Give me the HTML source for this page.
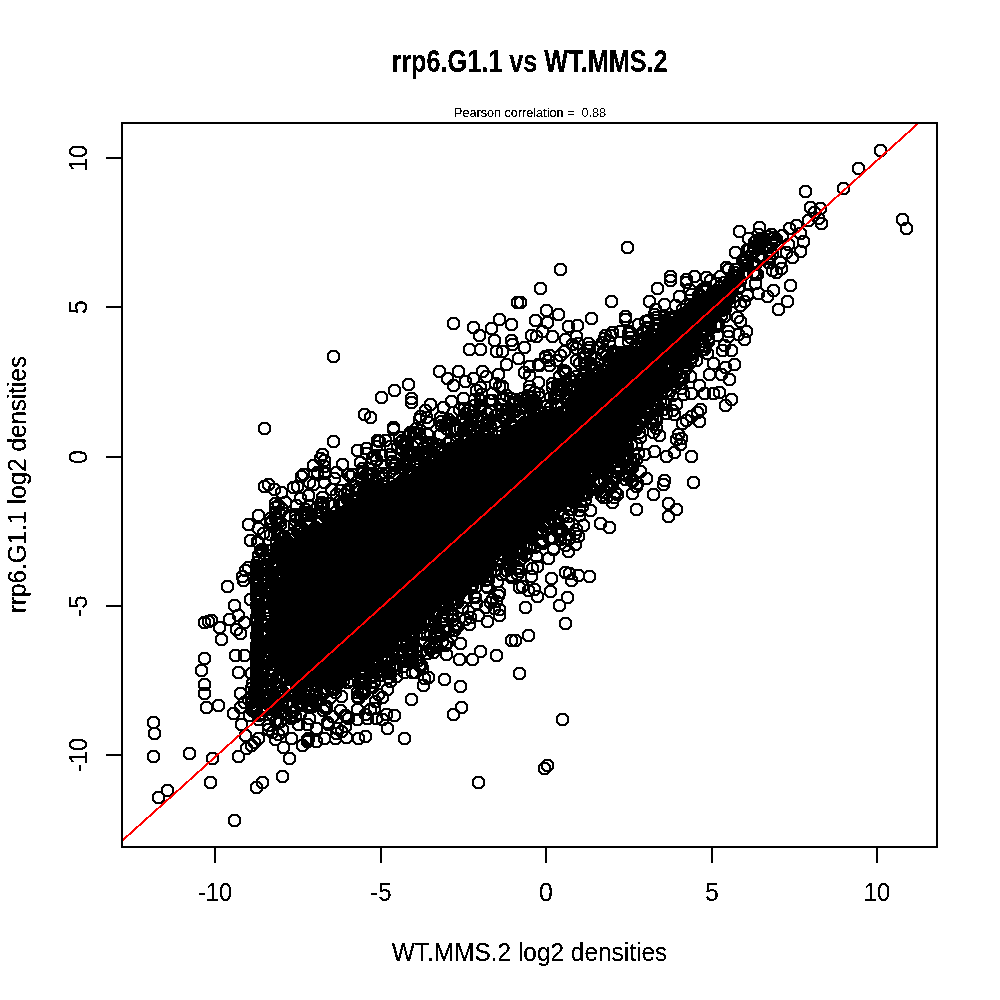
<!DOCTYPE html>
<html lang="en"><head><meta charset="utf-8"><title>rrp6.G1.1 vs WT.MMS.2</title>
<style>html,body{margin:0;padding:0;background:#fff}svg{display:block}text{font-family:"Liberation Sans",sans-serif;fill:#000}.pts circle{r:5.8px;fill:none;stroke:#000;stroke-width:2}</style></head><body>
<svg width="1000" height="1000" viewBox="0 0 1000 1000">
<defs><filter id="bw" x="0" y="0" width="1000" height="1000" filterUnits="userSpaceOnUse" color-interpolation-filters="sRGB"><feComponentTransfer><feFuncA type="discrete" tableValues="0 0 1 1 1"/></feComponentTransfer></filter></defs>
<rect width="1000" height="1000" fill="#fff"/>
<polygon points="285.9,573.5 286,649.9 289.8,676.9 297.1,680.3 310,681 325.7,679.5 341.5,673.9 359.1,663.2 408,628.6 427.6,609 459.5,581.9 529.6,526.8 549.3,509.1 579.1,491.4 581.1,475.7 597.2,454.7 622.5,438.3 628.9,416.6 649.6,396.6 661,382.7 663.5,364 678.6,347.8 688.5,328 709.3,304.9 723.4,297.5 727.7,289.7 724.5,292.6 694.3,310.8 664.8,330.4 644.3,346.7 623.3,357.3 608,371.9 589.1,387.1 570.7,409.7 539,420.4 522.4,426.8 502.2,440.9 469,450.1 449.1,460 428.7,468.2 399.8,481.7 370.9,497.1 352,508.4 298.7,545.5 285.9,573.5" fill="#000" stroke="#000" stroke-width="2" shape-rendering="crispEdges"/>
<g class="pts" shape-rendering="crispEdges">
<circle cx="518.5" cy="417.5"/>
<circle cx="595.5" cy="472.5"/>
<circle cx="612.5" cy="450.5"/>
<circle cx="446.5" cy="590.5"/>
<circle cx="643.5" cy="331.5"/>
<circle cx="427.5" cy="473.5"/>
<circle cx="624.5" cy="447.5"/>
<circle cx="656.5" cy="391.5"/>
<circle cx="716.5" cy="307.5"/>
<circle cx="286.5" cy="559.5"/>
<circle cx="381.5" cy="494.5"/>
<circle cx="532.5" cy="427.5"/>
<circle cx="290.5" cy="583.5"/>
<circle cx="581.5" cy="495.5"/>
<circle cx="277.5" cy="607.5"/>
<circle cx="379.5" cy="675.5"/>
<circle cx="674.5" cy="414.5"/>
<circle cx="613.5" cy="351.5"/>
<circle cx="419.5" cy="476.5"/>
<circle cx="394.5" cy="468.5"/>
<circle cx="545.5" cy="422.5"/>
<circle cx="445.5" cy="424.5"/>
<circle cx="268.5" cy="607.5"/>
<circle cx="368.5" cy="480.5"/>
<circle cx="647.5" cy="341.5"/>
<circle cx="519.5" cy="435.5"/>
<circle cx="647.5" cy="391.5"/>
<circle cx="705.5" cy="302.5"/>
<circle cx="317.5" cy="701.5"/>
<circle cx="700.5" cy="295.5"/>
<circle cx="669.5" cy="317.5"/>
<circle cx="259.5" cy="693.5"/>
<circle cx="271.5" cy="668.5"/>
<circle cx="516.5" cy="437.5"/>
<circle cx="470.5" cy="579.5"/>
<circle cx="691.5" cy="357.5"/>
<circle cx="587.5" cy="483.5"/>
<circle cx="485.5" cy="451.5"/>
<circle cx="557.5" cy="419.5"/>
<circle cx="698.5" cy="295.5"/>
<circle cx="688.5" cy="310.5"/>
<circle cx="709.5" cy="303.5"/>
<circle cx="561.5" cy="417.5"/>
<circle cx="740.5" cy="305.5"/>
<circle cx="652.5" cy="388.5"/>
<circle cx="274.5" cy="656.5"/>
<circle cx="691.5" cy="336.5"/>
<circle cx="287.5" cy="639.5"/>
<circle cx="611.5" cy="454.5"/>
<circle cx="457.5" cy="626.5"/>
<circle cx="318.5" cy="534.5"/>
<circle cx="360.5" cy="680.5"/>
<circle cx="596.5" cy="383.5"/>
<circle cx="368.5" cy="468.5"/>
<circle cx="406.5" cy="628.5"/>
<circle cx="668.5" cy="323.5"/>
<circle cx="724.5" cy="302.5"/>
<circle cx="441.5" cy="635.5"/>
<circle cx="409.5" cy="434.5"/>
<circle cx="403.5" cy="630.5"/>
<circle cx="482.5" cy="560.5"/>
<circle cx="602.5" cy="354.5"/>
<circle cx="547.5" cy="504.5"/>
<circle cx="440.5" cy="465.5"/>
<circle cx="519.5" cy="529.5"/>
<circle cx="347.5" cy="499.5"/>
<circle cx="288.5" cy="627.5"/>
<circle cx="533.5" cy="524.5"/>
<circle cx="291.5" cy="610.5"/>
<circle cx="683.5" cy="320.5"/>
<circle cx="417.5" cy="616.5"/>
<circle cx="455.5" cy="598.5"/>
<circle cx="594.5" cy="388.5"/>
<circle cx="300.5" cy="544.5"/>
<circle cx="657.5" cy="389.5"/>
<circle cx="617.5" cy="451.5"/>
<circle cx="338.5" cy="674.5"/>
<circle cx="620.5" cy="468.5"/>
<circle cx="559.5" cy="389.5"/>
<circle cx="732.5" cy="282.5"/>
<circle cx="547.5" cy="417.5"/>
<circle cx="424.5" cy="456.5"/>
<circle cx="273.5" cy="561.5"/>
<circle cx="508.5" cy="562.5"/>
<circle cx="289.5" cy="641.5"/>
<circle cx="291.5" cy="624.5"/>
<circle cx="654.5" cy="398.5"/>
<circle cx="557.5" cy="404.5"/>
<circle cx="344.5" cy="665.5"/>
<circle cx="675.5" cy="373.5"/>
<circle cx="522.5" cy="534.5"/>
<circle cx="311.5" cy="542.5"/>
<circle cx="553.5" cy="421.5"/>
<circle cx="568.5" cy="400.5"/>
<circle cx="392.5" cy="651.5"/>
<circle cx="333.5" cy="505.5"/>
<circle cx="534.5" cy="414.5"/>
<circle cx="280.5" cy="583.5"/>
<circle cx="317.5" cy="507.5"/>
<circle cx="406.5" cy="659.5"/>
<circle cx="487.5" cy="561.5"/>
<circle cx="335.5" cy="674.5"/>
<circle cx="498.5" cy="425.5"/>
<circle cx="656.5" cy="341.5"/>
<circle cx="299.5" cy="543.5"/>
<circle cx="645.5" cy="344.5"/>
<circle cx="283.5" cy="611.5"/>
<circle cx="359.5" cy="663.5"/>
<circle cx="385.5" cy="648.5"/>
<circle cx="644.5" cy="337.5"/>
<circle cx="395.5" cy="631.5"/>
<circle cx="285.5" cy="640.5"/>
<circle cx="535.5" cy="421.5"/>
<circle cx="627.5" cy="354.5"/>
<circle cx="574.5" cy="387.5"/>
<circle cx="593.5" cy="459.5"/>
<circle cx="327.5" cy="689.5"/>
<circle cx="262.5" cy="659.5"/>
<circle cx="680.5" cy="320.5"/>
<circle cx="638.5" cy="324.5"/>
<circle cx="651.5" cy="389.5"/>
<circle cx="490.5" cy="411.5"/>
<circle cx="434.5" cy="446.5"/>
<circle cx="381.5" cy="640.5"/>
<circle cx="275.5" cy="593.5"/>
<circle cx="468.5" cy="456.5"/>
<circle cx="673.5" cy="323.5"/>
<circle cx="480.5" cy="400.5"/>
<circle cx="440.5" cy="602.5"/>
<circle cx="560.5" cy="355.5"/>
<circle cx="456.5" cy="578.5"/>
<circle cx="336.5" cy="494.5"/>
<circle cx="520.5" cy="529.5"/>
<circle cx="402.5" cy="635.5"/>
<circle cx="531.5" cy="527.5"/>
<circle cx="557.5" cy="384.5"/>
<circle cx="517.5" cy="547.5"/>
<circle cx="699.5" cy="305.5"/>
<circle cx="563.5" cy="386.5"/>
<circle cx="375.5" cy="651.5"/>
<circle cx="542.5" cy="543.5"/>
<circle cx="622.5" cy="439.5"/>
<circle cx="336.5" cy="522.5"/>
<circle cx="459.5" cy="583.5"/>
<circle cx="535.5" cy="426.5"/>
<circle cx="268.5" cy="621.5"/>
<circle cx="288.5" cy="643.5"/>
<circle cx="361.5" cy="681.5"/>
<circle cx="580.5" cy="393.5"/>
<circle cx="266.5" cy="635.5"/>
<circle cx="274.5" cy="660.5"/>
<circle cx="570.5" cy="414.5"/>
<circle cx="536.5" cy="404.5"/>
<circle cx="649.5" cy="398.5"/>
<circle cx="317.5" cy="472.5"/>
<circle cx="282.5" cy="626.5"/>
<circle cx="360.5" cy="507.5"/>
<circle cx="709.5" cy="309.5"/>
<circle cx="674.5" cy="361.5"/>
<circle cx="408.5" cy="622.5"/>
<circle cx="297.5" cy="686.5"/>
<circle cx="301.5" cy="516.5"/>
<circle cx="481.5" cy="394.5"/>
<circle cx="316.5" cy="686.5"/>
<circle cx="699.5" cy="294.5"/>
<circle cx="516.5" cy="438.5"/>
<circle cx="254.5" cy="693.5"/>
<circle cx="338.5" cy="518.5"/>
<circle cx="686.5" cy="314.5"/>
<circle cx="652.5" cy="386.5"/>
<circle cx="325.5" cy="678.5"/>
<circle cx="288.5" cy="548.5"/>
<circle cx="286.5" cy="619.5"/>
<circle cx="365.5" cy="486.5"/>
<circle cx="485.5" cy="607.5"/>
<circle cx="679.5" cy="347.5"/>
<circle cx="463.5" cy="441.5"/>
<circle cx="690.5" cy="319.5"/>
<circle cx="392.5" cy="634.5"/>
<circle cx="292.5" cy="657.5"/>
<circle cx="655.5" cy="384.5"/>
<circle cx="279.5" cy="621.5"/>
<circle cx="540.5" cy="533.5"/>
<circle cx="289.5" cy="602.5"/>
<circle cx="644.5" cy="399.5"/>
<circle cx="275.5" cy="646.5"/>
<circle cx="508.5" cy="409.5"/>
<circle cx="617.5" cy="437.5"/>
<circle cx="683.5" cy="394.5"/>
<circle cx="403.5" cy="666.5"/>
<circle cx="703.5" cy="308.5"/>
<circle cx="296.5" cy="546.5"/>
<circle cx="458.5" cy="595.5"/>
<circle cx="288.5" cy="594.5"/>
<circle cx="266.5" cy="633.5"/>
<circle cx="272.5" cy="563.5"/>
<circle cx="321.5" cy="679.5"/>
<circle cx="286.5" cy="643.5"/>
<circle cx="480.5" cy="573.5"/>
<circle cx="298.5" cy="550.5"/>
<circle cx="354.5" cy="661.5"/>
<circle cx="422.5" cy="452.5"/>
<circle cx="529.5" cy="375.5"/>
<circle cx="602.5" cy="369.5"/>
<circle cx="586.5" cy="466.5"/>
<circle cx="539.5" cy="519.5"/>
<circle cx="468.5" cy="572.5"/>
<circle cx="427.5" cy="653.5"/>
<circle cx="642.5" cy="339.5"/>
<circle cx="454.5" cy="448.5"/>
<circle cx="621.5" cy="357.5"/>
<circle cx="724.5" cy="292.5"/>
<circle cx="523.5" cy="535.5"/>
<circle cx="379.5" cy="492.5"/>
<circle cx="552.5" cy="420.5"/>
<circle cx="299.5" cy="544.5"/>
<circle cx="543.5" cy="418.5"/>
<circle cx="275.5" cy="555.5"/>
<circle cx="591.5" cy="488.5"/>
<circle cx="463.5" cy="582.5"/>
<circle cx="585.5" cy="499.5"/>
<circle cx="386.5" cy="640.5"/>
<circle cx="330.5" cy="527.5"/>
<circle cx="284.5" cy="605.5"/>
<circle cx="529.5" cy="422.5"/>
<circle cx="684.5" cy="352.5"/>
<circle cx="284.5" cy="638.5"/>
<circle cx="281.5" cy="615.5"/>
<circle cx="646.5" cy="327.5"/>
<circle cx="724.5" cy="289.5"/>
<circle cx="329.5" cy="527.5"/>
<circle cx="745.5" cy="265.5"/>
<circle cx="646.5" cy="343.5"/>
<circle cx="579.5" cy="363.5"/>
<circle cx="386.5" cy="492.5"/>
<circle cx="376.5" cy="494.5"/>
<circle cx="645.5" cy="392.5"/>
<circle cx="563.5" cy="413.5"/>
<circle cx="618.5" cy="367.5"/>
<circle cx="705.5" cy="297.5"/>
<circle cx="437.5" cy="636.5"/>
<circle cx="540.5" cy="425.5"/>
<circle cx="579.5" cy="482.5"/>
<circle cx="287.5" cy="665.5"/>
<circle cx="387.5" cy="689.5"/>
<circle cx="616.5" cy="369.5"/>
<circle cx="327.5" cy="683.5"/>
<circle cx="284.5" cy="664.5"/>
<circle cx="666.5" cy="334.5"/>
<circle cx="560.5" cy="539.5"/>
<circle cx="577.5" cy="481.5"/>
<circle cx="527.5" cy="395.5"/>
<circle cx="383.5" cy="475.5"/>
<circle cx="349.5" cy="509.5"/>
<circle cx="725.5" cy="293.5"/>
<circle cx="453.5" cy="457.5"/>
<circle cx="420.5" cy="621.5"/>
<circle cx="385.5" cy="440.5"/>
<circle cx="485.5" cy="446.5"/>
<circle cx="627.5" cy="420.5"/>
<circle cx="398.5" cy="629.5"/>
<circle cx="269.5" cy="627.5"/>
<circle cx="326.5" cy="513.5"/>
<circle cx="583.5" cy="482.5"/>
<circle cx="486.5" cy="586.5"/>
<circle cx="430.5" cy="649.5"/>
<circle cx="437.5" cy="449.5"/>
<circle cx="450.5" cy="452.5"/>
<circle cx="702.5" cy="289.5"/>
<circle cx="609.5" cy="341.5"/>
<circle cx="278.5" cy="662.5"/>
<circle cx="301.5" cy="682.5"/>
<circle cx="631.5" cy="445.5"/>
<circle cx="642.5" cy="398.5"/>
<circle cx="376.5" cy="653.5"/>
<circle cx="731.5" cy="292.5"/>
<circle cx="626.5" cy="417.5"/>
<circle cx="272.5" cy="596.5"/>
<circle cx="615.5" cy="352.5"/>
<circle cx="560.5" cy="505.5"/>
<circle cx="499.5" cy="592.5"/>
<circle cx="272.5" cy="603.5"/>
<circle cx="596.5" cy="367.5"/>
<circle cx="639.5" cy="406.5"/>
<circle cx="272.5" cy="680.5"/>
<circle cx="311.5" cy="685.5"/>
<circle cx="650.5" cy="334.5"/>
<circle cx="373.5" cy="488.5"/>
<circle cx="497.5" cy="441.5"/>
<circle cx="291.5" cy="620.5"/>
<circle cx="555.5" cy="394.5"/>
<circle cx="651.5" cy="390.5"/>
<circle cx="302.5" cy="697.5"/>
<circle cx="394.5" cy="486.5"/>
<circle cx="550.5" cy="397.5"/>
<circle cx="706.5" cy="330.5"/>
<circle cx="670.5" cy="364.5"/>
<circle cx="516.5" cy="537.5"/>
<circle cx="276.5" cy="591.5"/>
<circle cx="390.5" cy="488.5"/>
<circle cx="284.5" cy="542.5"/>
<circle cx="512.5" cy="434.5"/>
<circle cx="510.5" cy="551.5"/>
<circle cx="364.5" cy="688.5"/>
<circle cx="265.5" cy="566.5"/>
<circle cx="392.5" cy="633.5"/>
<circle cx="425.5" cy="471.5"/>
<circle cx="501.5" cy="415.5"/>
<circle cx="417.5" cy="452.5"/>
<circle cx="552.5" cy="419.5"/>
<circle cx="285.5" cy="613.5"/>
<circle cx="377.5" cy="486.5"/>
<circle cx="660.5" cy="383.5"/>
<circle cx="370.5" cy="672.5"/>
<circle cx="456.5" cy="458.5"/>
<circle cx="415.5" cy="624.5"/>
<circle cx="678.5" cy="337.5"/>
<circle cx="289.5" cy="660.5"/>
<circle cx="401.5" cy="632.5"/>
<circle cx="331.5" cy="673.5"/>
<circle cx="465.5" cy="413.5"/>
<circle cx="613.5" cy="448.5"/>
<circle cx="409.5" cy="633.5"/>
<circle cx="666.5" cy="336.5"/>
<circle cx="474.5" cy="448.5"/>
<circle cx="582.5" cy="482.5"/>
<circle cx="686.5" cy="357.5"/>
<circle cx="711.5" cy="306.5"/>
<circle cx="586.5" cy="487.5"/>
<circle cx="672.5" cy="319.5"/>
<circle cx="605.5" cy="335.5"/>
<circle cx="432.5" cy="471.5"/>
<circle cx="278.5" cy="599.5"/>
<circle cx="397.5" cy="447.5"/>
<circle cx="705.5" cy="336.5"/>
<circle cx="428.5" cy="620.5"/>
<circle cx="639.5" cy="432.5"/>
<circle cx="680.5" cy="335.5"/>
<circle cx="385.5" cy="660.5"/>
<circle cx="380.5" cy="651.5"/>
<circle cx="658.5" cy="406.5"/>
<circle cx="418.5" cy="617.5"/>
<circle cx="274.5" cy="682.5"/>
<circle cx="715.5" cy="325.5"/>
<circle cx="320.5" cy="511.5"/>
<circle cx="297.5" cy="676.5"/>
<circle cx="321.5" cy="534.5"/>
<circle cx="424.5" cy="634.5"/>
<circle cx="533.5" cy="519.5"/>
<circle cx="262.5" cy="667.5"/>
<circle cx="554.5" cy="395.5"/>
<circle cx="655.5" cy="392.5"/>
<circle cx="454.5" cy="582.5"/>
<circle cx="622.5" cy="356.5"/>
<circle cx="478.5" cy="427.5"/>
<circle cx="447.5" cy="463.5"/>
<circle cx="277.5" cy="699.5"/>
<circle cx="599.5" cy="456.5"/>
<circle cx="324.5" cy="707.5"/>
<circle cx="428.5" cy="469.5"/>
<circle cx="375.5" cy="487.5"/>
<circle cx="490.5" cy="564.5"/>
<circle cx="526.5" cy="407.5"/>
<circle cx="654.5" cy="404.5"/>
<circle cx="474.5" cy="449.5"/>
<circle cx="600.5" cy="445.5"/>
<circle cx="447.5" cy="600.5"/>
<circle cx="559.5" cy="386.5"/>
<circle cx="284.5" cy="669.5"/>
<circle cx="495.5" cy="415.5"/>
<circle cx="622.5" cy="357.5"/>
<circle cx="591.5" cy="473.5"/>
<circle cx="281.5" cy="669.5"/>
<circle cx="393.5" cy="648.5"/>
<circle cx="347.5" cy="682.5"/>
<circle cx="302.5" cy="703.5"/>
<circle cx="467.5" cy="582.5"/>
<circle cx="728.5" cy="269.5"/>
<circle cx="566.5" cy="413.5"/>
<circle cx="471.5" cy="566.5"/>
<circle cx="478.5" cy="559.5"/>
<circle cx="257.5" cy="695.5"/>
<circle cx="721.5" cy="299.5"/>
<circle cx="540.5" cy="421.5"/>
<circle cx="278.5" cy="632.5"/>
<circle cx="280.5" cy="543.5"/>
<circle cx="291.5" cy="549.5"/>
<circle cx="738.5" cy="275.5"/>
<circle cx="304.5" cy="515.5"/>
<circle cx="608.5" cy="449.5"/>
<circle cx="619.5" cy="445.5"/>
<circle cx="678.5" cy="347.5"/>
<circle cx="413.5" cy="475.5"/>
<circle cx="515.5" cy="549.5"/>
<circle cx="677.5" cy="321.5"/>
<circle cx="451.5" cy="449.5"/>
<circle cx="643.5" cy="403.5"/>
<circle cx="283.5" cy="536.5"/>
<circle cx="376.5" cy="718.5"/>
<circle cx="352.5" cy="515.5"/>
<circle cx="393.5" cy="665.5"/>
<circle cx="442.5" cy="594.5"/>
<circle cx="286.5" cy="621.5"/>
<circle cx="371.5" cy="485.5"/>
<circle cx="288.5" cy="614.5"/>
<circle cx="633.5" cy="407.5"/>
<circle cx="609.5" cy="377.5"/>
<circle cx="281.5" cy="558.5"/>
<circle cx="388.5" cy="489.5"/>
<circle cx="287.5" cy="563.5"/>
<circle cx="604.5" cy="443.5"/>
<circle cx="601.5" cy="450.5"/>
<circle cx="341.5" cy="673.5"/>
<circle cx="561.5" cy="529.5"/>
<circle cx="288.5" cy="649.5"/>
<circle cx="288.5" cy="667.5"/>
<circle cx="508.5" cy="564.5"/>
<circle cx="288.5" cy="634.5"/>
<circle cx="528.5" cy="425.5"/>
<circle cx="532.5" cy="522.5"/>
<circle cx="497.5" cy="446.5"/>
<circle cx="607.5" cy="370.5"/>
<circle cx="375.5" cy="664.5"/>
<circle cx="563.5" cy="499.5"/>
<circle cx="375.5" cy="663.5"/>
<circle cx="607.5" cy="452.5"/>
<circle cx="410.5" cy="653.5"/>
<circle cx="705.5" cy="287.5"/>
<circle cx="284.5" cy="567.5"/>
<circle cx="270.5" cy="571.5"/>
<circle cx="736.5" cy="276.5"/>
<circle cx="528.5" cy="424.5"/>
<circle cx="300.5" cy="536.5"/>
<circle cx="590.5" cy="363.5"/>
<circle cx="541.5" cy="540.5"/>
<circle cx="565.5" cy="371.5"/>
<circle cx="515.5" cy="438.5"/>
<circle cx="592.5" cy="390.5"/>
<circle cx="317.5" cy="533.5"/>
<circle cx="530.5" cy="521.5"/>
<circle cx="404.5" cy="633.5"/>
<circle cx="412.5" cy="639.5"/>
<circle cx="495.5" cy="383.5"/>
<circle cx="705.5" cy="328.5"/>
<circle cx="517.5" cy="530.5"/>
<circle cx="538.5" cy="524.5"/>
<circle cx="591.5" cy="381.5"/>
<circle cx="679.5" cy="350.5"/>
<circle cx="276.5" cy="529.5"/>
<circle cx="492.5" cy="553.5"/>
<circle cx="372.5" cy="687.5"/>
<circle cx="277.5" cy="519.5"/>
<circle cx="455.5" cy="462.5"/>
<circle cx="413.5" cy="628.5"/>
<circle cx="589.5" cy="384.5"/>
<circle cx="315.5" cy="540.5"/>
<circle cx="699.5" cy="303.5"/>
<circle cx="424.5" cy="446.5"/>
<circle cx="340.5" cy="490.5"/>
<circle cx="596.5" cy="459.5"/>
<circle cx="627.5" cy="361.5"/>
<circle cx="573.5" cy="499.5"/>
<circle cx="290.5" cy="608.5"/>
<circle cx="638.5" cy="425.5"/>
<circle cx="573.5" cy="410.5"/>
<circle cx="590.5" cy="392.5"/>
<circle cx="298.5" cy="695.5"/>
<circle cx="519.5" cy="571.5"/>
<circle cx="290.5" cy="572.5"/>
<circle cx="287.5" cy="596.5"/>
<circle cx="685.5" cy="322.5"/>
<circle cx="339.5" cy="501.5"/>
<circle cx="310.5" cy="539.5"/>
<circle cx="664.5" cy="325.5"/>
<circle cx="300.5" cy="538.5"/>
<circle cx="680.5" cy="351.5"/>
<circle cx="311.5" cy="680.5"/>
<circle cx="503.5" cy="418.5"/>
<circle cx="394.5" cy="487.5"/>
<circle cx="519.5" cy="401.5"/>
<circle cx="483.5" cy="451.5"/>
<circle cx="453.5" cy="589.5"/>
<circle cx="611.5" cy="444.5"/>
<circle cx="383.5" cy="666.5"/>
<circle cx="290.5" cy="636.5"/>
<circle cx="373.5" cy="669.5"/>
<circle cx="405.5" cy="461.5"/>
<circle cx="412.5" cy="642.5"/>
<circle cx="690.5" cy="354.5"/>
<circle cx="569.5" cy="534.5"/>
<circle cx="454.5" cy="454.5"/>
<circle cx="676.5" cy="329.5"/>
<circle cx="511.5" cy="575.5"/>
<circle cx="273.5" cy="647.5"/>
<circle cx="282.5" cy="647.5"/>
<circle cx="416.5" cy="433.5"/>
<circle cx="505.5" cy="445.5"/>
<circle cx="595.5" cy="460.5"/>
<circle cx="576.5" cy="409.5"/>
<circle cx="277.5" cy="620.5"/>
<circle cx="379.5" cy="664.5"/>
<circle cx="518.5" cy="416.5"/>
<circle cx="627.5" cy="431.5"/>
<circle cx="643.5" cy="396.5"/>
<circle cx="645.5" cy="348.5"/>
<circle cx="288.5" cy="635.5"/>
<circle cx="626.5" cy="351.5"/>
<circle cx="510.5" cy="537.5"/>
<circle cx="636.5" cy="408.5"/>
<circle cx="309.5" cy="506.5"/>
<circle cx="653.5" cy="390.5"/>
<circle cx="470.5" cy="429.5"/>
<circle cx="419.5" cy="419.5"/>
<circle cx="429.5" cy="455.5"/>
<circle cx="337.5" cy="669.5"/>
<circle cx="696.5" cy="327.5"/>
<circle cx="340.5" cy="674.5"/>
<circle cx="282.5" cy="621.5"/>
<circle cx="310.5" cy="540.5"/>
<circle cx="276.5" cy="630.5"/>
<circle cx="396.5" cy="630.5"/>
<circle cx="407.5" cy="649.5"/>
<circle cx="487.5" cy="569.5"/>
<circle cx="282.5" cy="623.5"/>
<circle cx="625.5" cy="454.5"/>
<circle cx="692.5" cy="331.5"/>
<circle cx="488.5" cy="557.5"/>
<circle cx="329.5" cy="520.5"/>
<circle cx="505.5" cy="416.5"/>
<circle cx="331.5" cy="521.5"/>
<circle cx="341.5" cy="696.5"/>
<circle cx="618.5" cy="352.5"/>
<circle cx="675.5" cy="370.5"/>
<circle cx="474.5" cy="405.5"/>
<circle cx="313.5" cy="676.5"/>
<circle cx="272.5" cy="679.5"/>
<circle cx="681.5" cy="316.5"/>
<circle cx="598.5" cy="451.5"/>
<circle cx="415.5" cy="617.5"/>
<circle cx="607.5" cy="442.5"/>
<circle cx="445.5" cy="465.5"/>
<circle cx="337.5" cy="522.5"/>
<circle cx="502.5" cy="386.5"/>
<circle cx="471.5" cy="573.5"/>
<circle cx="483.5" cy="425.5"/>
<circle cx="531.5" cy="426.5"/>
<circle cx="577.5" cy="487.5"/>
<circle cx="323.5" cy="710.5"/>
<circle cx="285.5" cy="620.5"/>
<circle cx="357.5" cy="500.5"/>
<circle cx="378.5" cy="694.5"/>
<circle cx="282.5" cy="586.5"/>
<circle cx="642.5" cy="395.5"/>
<circle cx="689.5" cy="327.5"/>
<circle cx="290.5" cy="569.5"/>
<circle cx="272.5" cy="601.5"/>
<circle cx="594.5" cy="370.5"/>
<circle cx="414.5" cy="617.5"/>
<circle cx="695.5" cy="310.5"/>
<circle cx="704.5" cy="299.5"/>
<circle cx="289.5" cy="557.5"/>
<circle cx="364.5" cy="503.5"/>
<circle cx="415.5" cy="480.5"/>
<circle cx="614.5" cy="446.5"/>
<circle cx="291.5" cy="606.5"/>
<circle cx="295.5" cy="565.5"/>
<circle cx="433.5" cy="469.5"/>
<circle cx="621.5" cy="422.5"/>
<circle cx="326.5" cy="674.5"/>
<circle cx="412.5" cy="643.5"/>
<circle cx="427.5" cy="442.5"/>
<circle cx="598.5" cy="347.5"/>
<circle cx="307.5" cy="542.5"/>
<circle cx="603.5" cy="450.5"/>
<circle cx="282.5" cy="609.5"/>
<circle cx="662.5" cy="379.5"/>
<circle cx="478.5" cy="421.5"/>
<circle cx="703.5" cy="345.5"/>
<circle cx="318.5" cy="681.5"/>
<circle cx="571.5" cy="390.5"/>
<circle cx="700.5" cy="301.5"/>
<circle cx="435.5" cy="603.5"/>
<circle cx="363.5" cy="492.5"/>
<circle cx="582.5" cy="506.5"/>
<circle cx="466.5" cy="452.5"/>
<circle cx="444.5" cy="607.5"/>
<circle cx="450.5" cy="441.5"/>
<circle cx="568.5" cy="523.5"/>
<circle cx="455.5" cy="626.5"/>
<circle cx="288.5" cy="690.5"/>
<circle cx="673.5" cy="358.5"/>
<circle cx="702.5" cy="349.5"/>
<circle cx="490.5" cy="550.5"/>
<circle cx="298.5" cy="724.5"/>
<circle cx="514.5" cy="532.5"/>
<circle cx="351.5" cy="669.5"/>
<circle cx="573.5" cy="387.5"/>
<circle cx="681.5" cy="340.5"/>
<circle cx="275.5" cy="512.5"/>
<circle cx="492.5" cy="558.5"/>
<circle cx="485.5" cy="580.5"/>
<circle cx="413.5" cy="639.5"/>
<circle cx="379.5" cy="652.5"/>
<circle cx="591.5" cy="369.5"/>
<circle cx="483.5" cy="566.5"/>
<circle cx="349.5" cy="513.5"/>
<circle cx="518.5" cy="548.5"/>
<circle cx="286.5" cy="571.5"/>
<circle cx="636.5" cy="407.5"/>
<circle cx="305.5" cy="540.5"/>
<circle cx="732.5" cy="288.5"/>
<circle cx="356.5" cy="662.5"/>
<circle cx="340.5" cy="678.5"/>
<circle cx="475.5" cy="597.5"/>
<circle cx="412.5" cy="456.5"/>
<circle cx="731.5" cy="282.5"/>
<circle cx="453.5" cy="412.5"/>
<circle cx="277.5" cy="534.5"/>
<circle cx="352.5" cy="505.5"/>
<circle cx="475.5" cy="574.5"/>
<circle cx="455.5" cy="460.5"/>
<circle cx="347.5" cy="667.5"/>
<circle cx="503.5" cy="444.5"/>
<circle cx="590.5" cy="387.5"/>
<circle cx="555.5" cy="521.5"/>
<circle cx="306.5" cy="680.5"/>
<circle cx="679.5" cy="341.5"/>
<circle cx="467.5" cy="426.5"/>
<circle cx="603.5" cy="379.5"/>
<circle cx="386.5" cy="658.5"/>
<circle cx="621.5" cy="353.5"/>
<circle cx="397.5" cy="489.5"/>
<circle cx="712.5" cy="292.5"/>
<circle cx="287.5" cy="653.5"/>
<circle cx="388.5" cy="672.5"/>
<circle cx="376.5" cy="459.5"/>
<circle cx="655.5" cy="418.5"/>
<circle cx="571.5" cy="414.5"/>
<circle cx="684.5" cy="315.5"/>
<circle cx="342.5" cy="504.5"/>
<circle cx="610.5" cy="464.5"/>
<circle cx="418.5" cy="474.5"/>
<circle cx="269.5" cy="550.5"/>
<circle cx="612.5" cy="352.5"/>
<circle cx="427.5" cy="434.5"/>
<circle cx="386.5" cy="666.5"/>
<circle cx="288.5" cy="645.5"/>
<circle cx="642.5" cy="354.5"/>
<circle cx="381.5" cy="455.5"/>
<circle cx="703.5" cy="323.5"/>
<circle cx="327.5" cy="722.5"/>
<circle cx="372.5" cy="479.5"/>
<circle cx="497.5" cy="414.5"/>
<circle cx="724.5" cy="296.5"/>
<circle cx="732.5" cy="276.5"/>
<circle cx="553.5" cy="413.5"/>
<circle cx="531.5" cy="425.5"/>
<circle cx="452.5" cy="599.5"/>
<circle cx="345.5" cy="715.5"/>
<circle cx="523.5" cy="536.5"/>
<circle cx="439.5" cy="469.5"/>
<circle cx="289.5" cy="668.5"/>
<circle cx="624.5" cy="435.5"/>
<circle cx="269.5" cy="640.5"/>
<circle cx="731.5" cy="279.5"/>
<circle cx="611.5" cy="457.5"/>
<circle cx="464.5" cy="408.5"/>
<circle cx="330.5" cy="676.5"/>
<circle cx="408.5" cy="453.5"/>
<circle cx="517.5" cy="574.5"/>
<circle cx="292.5" cy="661.5"/>
<circle cx="525.5" cy="405.5"/>
<circle cx="468.5" cy="611.5"/>
<circle cx="326.5" cy="679.5"/>
<circle cx="289.5" cy="574.5"/>
<circle cx="380.5" cy="642.5"/>
<circle cx="350.5" cy="506.5"/>
<circle cx="474.5" cy="399.5"/>
<circle cx="494.5" cy="608.5"/>
<circle cx="438.5" cy="630.5"/>
<circle cx="429.5" cy="602.5"/>
<circle cx="627.5" cy="446.5"/>
<circle cx="542.5" cy="510.5"/>
<circle cx="277.5" cy="621.5"/>
<circle cx="615.5" cy="438.5"/>
<circle cx="298.5" cy="531.5"/>
<circle cx="278.5" cy="563.5"/>
<circle cx="517.5" cy="567.5"/>
<circle cx="602.5" cy="458.5"/>
<circle cx="612.5" cy="438.5"/>
<circle cx="351.5" cy="664.5"/>
<circle cx="587.5" cy="384.5"/>
<circle cx="496.5" cy="601.5"/>
<circle cx="471.5" cy="420.5"/>
<circle cx="446.5" cy="465.5"/>
<circle cx="602.5" cy="454.5"/>
<circle cx="706.5" cy="315.5"/>
<circle cx="371.5" cy="677.5"/>
<circle cx="284.5" cy="667.5"/>
<circle cx="484.5" cy="449.5"/>
<circle cx="656.5" cy="420.5"/>
<circle cx="694.5" cy="307.5"/>
<circle cx="516.5" cy="550.5"/>
<circle cx="405.5" cy="632.5"/>
<circle cx="277.5" cy="629.5"/>
<circle cx="663.5" cy="384.5"/>
<circle cx="366.5" cy="655.5"/>
<circle cx="391.5" cy="462.5"/>
<circle cx="363.5" cy="653.5"/>
<circle cx="630.5" cy="420.5"/>
<circle cx="519.5" cy="560.5"/>
<circle cx="289.5" cy="635.5"/>
<circle cx="387.5" cy="635.5"/>
<circle cx="348.5" cy="668.5"/>
<circle cx="626.5" cy="424.5"/>
<circle cx="460.5" cy="460.5"/>
<circle cx="441.5" cy="421.5"/>
<circle cx="607.5" cy="455.5"/>
<circle cx="291.5" cy="647.5"/>
<circle cx="474.5" cy="571.5"/>
<circle cx="436.5" cy="444.5"/>
<circle cx="448.5" cy="419.5"/>
<circle cx="630.5" cy="408.5"/>
<circle cx="592.5" cy="379.5"/>
<circle cx="568.5" cy="539.5"/>
<circle cx="623.5" cy="436.5"/>
<circle cx="286.5" cy="576.5"/>
<circle cx="471.5" cy="454.5"/>
<circle cx="612.5" cy="449.5"/>
<circle cx="406.5" cy="451.5"/>
<circle cx="325.5" cy="675.5"/>
<circle cx="285.5" cy="667.5"/>
<circle cx="278.5" cy="646.5"/>
<circle cx="587.5" cy="492.5"/>
<circle cx="650.5" cy="338.5"/>
<circle cx="583.5" cy="353.5"/>
<circle cx="267.5" cy="614.5"/>
<circle cx="503.5" cy="440.5"/>
<circle cx="640.5" cy="355.5"/>
<circle cx="281.5" cy="653.5"/>
<circle cx="637.5" cy="347.5"/>
<circle cx="305.5" cy="509.5"/>
<circle cx="348.5" cy="474.5"/>
<circle cx="334.5" cy="478.5"/>
<circle cx="453.5" cy="453.5"/>
<circle cx="496.5" cy="447.5"/>
<circle cx="666.5" cy="373.5"/>
<circle cx="473.5" cy="580.5"/>
<circle cx="334.5" cy="689.5"/>
<circle cx="284.5" cy="536.5"/>
<circle cx="492.5" cy="448.5"/>
<circle cx="362.5" cy="693.5"/>
<circle cx="361.5" cy="479.5"/>
<circle cx="270.5" cy="523.5"/>
<circle cx="526.5" cy="553.5"/>
<circle cx="289.5" cy="560.5"/>
<circle cx="331.5" cy="489.5"/>
<circle cx="279.5" cy="594.5"/>
<circle cx="738.5" cy="288.5"/>
<circle cx="277.5" cy="662.5"/>
<circle cx="561.5" cy="503.5"/>
<circle cx="547.5" cy="405.5"/>
<circle cx="505.5" cy="539.5"/>
<circle cx="415.5" cy="622.5"/>
<circle cx="454.5" cy="451.5"/>
<circle cx="581.5" cy="390.5"/>
<circle cx="295.5" cy="514.5"/>
<circle cx="520.5" cy="552.5"/>
<circle cx="457.5" cy="577.5"/>
<circle cx="692.5" cy="344.5"/>
<circle cx="671.5" cy="358.5"/>
<circle cx="256.5" cy="712.5"/>
<circle cx="404.5" cy="672.5"/>
<circle cx="518.5" cy="551.5"/>
<circle cx="291.5" cy="582.5"/>
<circle cx="285.5" cy="641.5"/>
<circle cx="637.5" cy="405.5"/>
<circle cx="297.5" cy="681.5"/>
<circle cx="299.5" cy="530.5"/>
<circle cx="270.5" cy="590.5"/>
<circle cx="482.5" cy="450.5"/>
<circle cx="291.5" cy="594.5"/>
<circle cx="406.5" cy="629.5"/>
<circle cx="578.5" cy="407.5"/>
<circle cx="506.5" cy="432.5"/>
<circle cx="304.5" cy="681.5"/>
<circle cx="429.5" cy="621.5"/>
<circle cx="449.5" cy="585.5"/>
<circle cx="286.5" cy="714.5"/>
<circle cx="465.5" cy="571.5"/>
<circle cx="265.5" cy="658.5"/>
<circle cx="277.5" cy="579.5"/>
<circle cx="686.5" cy="332.5"/>
<circle cx="703.5" cy="310.5"/>
<circle cx="658.5" cy="383.5"/>
<circle cx="566.5" cy="400.5"/>
<circle cx="633.5" cy="357.5"/>
<circle cx="361.5" cy="679.5"/>
<circle cx="551.5" cy="501.5"/>
<circle cx="635.5" cy="413.5"/>
<circle cx="279.5" cy="653.5"/>
<circle cx="595.5" cy="386.5"/>
<circle cx="515.5" cy="435.5"/>
<circle cx="702.5" cy="335.5"/>
<circle cx="659.5" cy="383.5"/>
<circle cx="308.5" cy="681.5"/>
<circle cx="691.5" cy="307.5"/>
<circle cx="707.5" cy="289.5"/>
<circle cx="387.5" cy="492.5"/>
<circle cx="456.5" cy="579.5"/>
<circle cx="285.5" cy="669.5"/>
<circle cx="446.5" cy="605.5"/>
<circle cx="315.5" cy="700.5"/>
<circle cx="606.5" cy="375.5"/>
<circle cx="477.5" cy="560.5"/>
<circle cx="709.5" cy="325.5"/>
<circle cx="479.5" cy="563.5"/>
<circle cx="290.5" cy="677.5"/>
<circle cx="576.5" cy="485.5"/>
<circle cx="268.5" cy="610.5"/>
<circle cx="734.5" cy="272.5"/>
<circle cx="373.5" cy="672.5"/>
<circle cx="502.5" cy="548.5"/>
<circle cx="312.5" cy="543.5"/>
<circle cx="313.5" cy="484.5"/>
<circle cx="390.5" cy="454.5"/>
<circle cx="412.5" cy="616.5"/>
<circle cx="402.5" cy="655.5"/>
<circle cx="306.5" cy="512.5"/>
<circle cx="687.5" cy="313.5"/>
<circle cx="344.5" cy="674.5"/>
<circle cx="658.5" cy="377.5"/>
<circle cx="569.5" cy="509.5"/>
<circle cx="489.5" cy="558.5"/>
<circle cx="578.5" cy="409.5"/>
<circle cx="286.5" cy="654.5"/>
<circle cx="488.5" cy="422.5"/>
<circle cx="311.5" cy="535.5"/>
<circle cx="455.5" cy="456.5"/>
<circle cx="619.5" cy="362.5"/>
<circle cx="639.5" cy="421.5"/>
<circle cx="551.5" cy="509.5"/>
<circle cx="692.5" cy="350.5"/>
<circle cx="307.5" cy="532.5"/>
<circle cx="519.5" cy="587.5"/>
<circle cx="671.5" cy="319.5"/>
<circle cx="527.5" cy="403.5"/>
<circle cx="558.5" cy="528.5"/>
<circle cx="559.5" cy="499.5"/>
<circle cx="686.5" cy="333.5"/>
<circle cx="639.5" cy="355.5"/>
<circle cx="276.5" cy="622.5"/>
<circle cx="274.5" cy="609.5"/>
<circle cx="690.5" cy="316.5"/>
<circle cx="290.5" cy="581.5"/>
<circle cx="470.5" cy="575.5"/>
<circle cx="383.5" cy="478.5"/>
<circle cx="419.5" cy="633.5"/>
<circle cx="660.5" cy="367.5"/>
<circle cx="343.5" cy="502.5"/>
<circle cx="284.5" cy="641.5"/>
<circle cx="459.5" cy="460.5"/>
<circle cx="418.5" cy="455.5"/>
<circle cx="691.5" cy="315.5"/>
<circle cx="409.5" cy="661.5"/>
<circle cx="382.5" cy="697.5"/>
<circle cx="517.5" cy="433.5"/>
<circle cx="348.5" cy="511.5"/>
<circle cx="314.5" cy="539.5"/>
<circle cx="282.5" cy="601.5"/>
<circle cx="282.5" cy="611.5"/>
<circle cx="558.5" cy="394.5"/>
<circle cx="555.5" cy="419.5"/>
<circle cx="339.5" cy="677.5"/>
<circle cx="305.5" cy="685.5"/>
<circle cx="654.5" cy="406.5"/>
<circle cx="283.5" cy="645.5"/>
<circle cx="633.5" cy="416.5"/>
<circle cx="295.5" cy="549.5"/>
<circle cx="667.5" cy="353.5"/>
<circle cx="415.5" cy="461.5"/>
<circle cx="490.5" cy="571.5"/>
<circle cx="562.5" cy="531.5"/>
<circle cx="264.5" cy="656.5"/>
<circle cx="466.5" cy="457.5"/>
<circle cx="309.5" cy="521.5"/>
<circle cx="269.5" cy="592.5"/>
<circle cx="338.5" cy="679.5"/>
<circle cx="434.5" cy="469.5"/>
<circle cx="363.5" cy="669.5"/>
<circle cx="451.5" cy="459.5"/>
<circle cx="586.5" cy="494.5"/>
<circle cx="475.5" cy="443.5"/>
<circle cx="664.5" cy="317.5"/>
<circle cx="553.5" cy="549.5"/>
<circle cx="423.5" cy="685.5"/>
<circle cx="394.5" cy="465.5"/>
<circle cx="715.5" cy="292.5"/>
<circle cx="308.5" cy="738.5"/>
<circle cx="595.5" cy="390.5"/>
<circle cx="441.5" cy="596.5"/>
<circle cx="269.5" cy="560.5"/>
<circle cx="287.5" cy="657.5"/>
<circle cx="444.5" cy="612.5"/>
<circle cx="406.5" cy="639.5"/>
<circle cx="358.5" cy="504.5"/>
<circle cx="555.5" cy="420.5"/>
<circle cx="419.5" cy="614.5"/>
<circle cx="362.5" cy="689.5"/>
<circle cx="521.5" cy="535.5"/>
<circle cx="658.5" cy="376.5"/>
<circle cx="637.5" cy="399.5"/>
<circle cx="574.5" cy="496.5"/>
<circle cx="482.5" cy="449.5"/>
<circle cx="381.5" cy="656.5"/>
<circle cx="311.5" cy="678.5"/>
<circle cx="601.5" cy="453.5"/>
<circle cx="286.5" cy="678.5"/>
<circle cx="284.5" cy="550.5"/>
<circle cx="418.5" cy="660.5"/>
<circle cx="588.5" cy="457.5"/>
<circle cx="708.5" cy="303.5"/>
<circle cx="285.5" cy="648.5"/>
<circle cx="491.5" cy="410.5"/>
<circle cx="339.5" cy="676.5"/>
<circle cx="578.5" cy="398.5"/>
<circle cx="580.5" cy="402.5"/>
<circle cx="584.5" cy="399.5"/>
<circle cx="348.5" cy="514.5"/>
<circle cx="557.5" cy="420.5"/>
<circle cx="719.5" cy="290.5"/>
<circle cx="670.5" cy="375.5"/>
<circle cx="717.5" cy="335.5"/>
<circle cx="363.5" cy="660.5"/>
<circle cx="589.5" cy="489.5"/>
<circle cx="479.5" cy="568.5"/>
<circle cx="522.5" cy="398.5"/>
<circle cx="461.5" cy="457.5"/>
<circle cx="722.5" cy="296.5"/>
<circle cx="542.5" cy="420.5"/>
<circle cx="440.5" cy="434.5"/>
<circle cx="648.5" cy="342.5"/>
<circle cx="288.5" cy="558.5"/>
<circle cx="283.5" cy="647.5"/>
<circle cx="300.5" cy="545.5"/>
<circle cx="576.5" cy="487.5"/>
<circle cx="655.5" cy="341.5"/>
<circle cx="452.5" cy="583.5"/>
<circle cx="279.5" cy="545.5"/>
<circle cx="628.5" cy="341.5"/>
<circle cx="560.5" cy="495.5"/>
<circle cx="401.5" cy="643.5"/>
<circle cx="447.5" cy="423.5"/>
<circle cx="499.5" cy="386.5"/>
<circle cx="521.5" cy="530.5"/>
<circle cx="595.5" cy="448.5"/>
<circle cx="582.5" cy="493.5"/>
<circle cx="326.5" cy="531.5"/>
<circle cx="266.5" cy="654.5"/>
<circle cx="681.5" cy="346.5"/>
<circle cx="281.5" cy="634.5"/>
<circle cx="704.5" cy="310.5"/>
<circle cx="412.5" cy="624.5"/>
<circle cx="499.5" cy="444.5"/>
<circle cx="374.5" cy="488.5"/>
<circle cx="264.5" cy="625.5"/>
<circle cx="472.5" cy="585.5"/>
<circle cx="337.5" cy="672.5"/>
<circle cx="476.5" cy="563.5"/>
<circle cx="280.5" cy="548.5"/>
<circle cx="324.5" cy="532.5"/>
<circle cx="393.5" cy="633.5"/>
<circle cx="352.5" cy="510.5"/>
<circle cx="433.5" cy="472.5"/>
<circle cx="502.5" cy="442.5"/>
<circle cx="587.5" cy="389.5"/>
<circle cx="552.5" cy="502.5"/>
<circle cx="286.5" cy="659.5"/>
<circle cx="284.5" cy="606.5"/>
<circle cx="288.5" cy="599.5"/>
<circle cx="592.5" cy="459.5"/>
<circle cx="314.5" cy="696.5"/>
<circle cx="606.5" cy="445.5"/>
<circle cx="524.5" cy="400.5"/>
<circle cx="663.5" cy="331.5"/>
<circle cx="678.5" cy="352.5"/>
<circle cx="458.5" cy="576.5"/>
<circle cx="674.5" cy="327.5"/>
<circle cx="291.5" cy="639.5"/>
<circle cx="533.5" cy="413.5"/>
<circle cx="417.5" cy="474.5"/>
<circle cx="469.5" cy="453.5"/>
<circle cx="540.5" cy="412.5"/>
<circle cx="400.5" cy="640.5"/>
<circle cx="670.5" cy="351.5"/>
<circle cx="296.5" cy="561.5"/>
<circle cx="300.5" cy="705.5"/>
<circle cx="262.5" cy="666.5"/>
<circle cx="315.5" cy="680.5"/>
<circle cx="295.5" cy="520.5"/>
<circle cx="471.5" cy="578.5"/>
<circle cx="681.5" cy="320.5"/>
<circle cx="518.5" cy="568.5"/>
<circle cx="449.5" cy="589.5"/>
<circle cx="567.5" cy="496.5"/>
<circle cx="283.5" cy="606.5"/>
<circle cx="267.5" cy="574.5"/>
<circle cx="315.5" cy="703.5"/>
<circle cx="679.5" cy="376.5"/>
<circle cx="608.5" cy="471.5"/>
<circle cx="384.5" cy="647.5"/>
<circle cx="690.5" cy="320.5"/>
<circle cx="643.5" cy="397.5"/>
<circle cx="374.5" cy="455.5"/>
<circle cx="672.5" cy="410.5"/>
<circle cx="448.5" cy="631.5"/>
<circle cx="706.5" cy="298.5"/>
<circle cx="471.5" cy="568.5"/>
<circle cx="721.5" cy="315.5"/>
<circle cx="280.5" cy="535.5"/>
<circle cx="365.5" cy="656.5"/>
<circle cx="389.5" cy="668.5"/>
<circle cx="564.5" cy="496.5"/>
<circle cx="485.5" cy="440.5"/>
<circle cx="656.5" cy="323.5"/>
<circle cx="435.5" cy="624.5"/>
<circle cx="630.5" cy="409.5"/>
<circle cx="407.5" cy="443.5"/>
<circle cx="564.5" cy="417.5"/>
<circle cx="488.5" cy="579.5"/>
<circle cx="302.5" cy="698.5"/>
<circle cx="631.5" cy="358.5"/>
<circle cx="729.5" cy="298.5"/>
<circle cx="641.5" cy="342.5"/>
<circle cx="396.5" cy="490.5"/>
<circle cx="392.5" cy="490.5"/>
<circle cx="298.5" cy="529.5"/>
<circle cx="635.5" cy="345.5"/>
<circle cx="288.5" cy="586.5"/>
<circle cx="563.5" cy="496.5"/>
<circle cx="419.5" cy="624.5"/>
<circle cx="465.5" cy="588.5"/>
<circle cx="280.5" cy="654.5"/>
<circle cx="350.5" cy="511.5"/>
<circle cx="282.5" cy="729.5"/>
<circle cx="610.5" cy="447.5"/>
<circle cx="309.5" cy="700.5"/>
<circle cx="366.5" cy="498.5"/>
<circle cx="476.5" cy="447.5"/>
<circle cx="520.5" cy="428.5"/>
<circle cx="519.5" cy="537.5"/>
<circle cx="388.5" cy="658.5"/>
<circle cx="442.5" cy="593.5"/>
<circle cx="581.5" cy="404.5"/>
<circle cx="322.5" cy="513.5"/>
<circle cx="378.5" cy="645.5"/>
<circle cx="477.5" cy="572.5"/>
<circle cx="628.5" cy="426.5"/>
<circle cx="720.5" cy="286.5"/>
<circle cx="284.5" cy="568.5"/>
<circle cx="511.5" cy="433.5"/>
<circle cx="684.5" cy="362.5"/>
<circle cx="641.5" cy="405.5"/>
<circle cx="281.5" cy="652.5"/>
<circle cx="671.5" cy="324.5"/>
<circle cx="448.5" cy="443.5"/>
<circle cx="567.5" cy="504.5"/>
<circle cx="572.5" cy="495.5"/>
<circle cx="671.5" cy="357.5"/>
<circle cx="282.5" cy="544.5"/>
<circle cx="709.5" cy="323.5"/>
<circle cx="534.5" cy="515.5"/>
<circle cx="465.5" cy="580.5"/>
<circle cx="576.5" cy="529.5"/>
<circle cx="272.5" cy="707.5"/>
<circle cx="591.5" cy="461.5"/>
<circle cx="276.5" cy="677.5"/>
<circle cx="412.5" cy="650.5"/>
<circle cx="516.5" cy="535.5"/>
<circle cx="571.5" cy="496.5"/>
<circle cx="666.5" cy="333.5"/>
<circle cx="336.5" cy="733.5"/>
<circle cx="282.5" cy="691.5"/>
<circle cx="489.5" cy="439.5"/>
<circle cx="421.5" cy="651.5"/>
<circle cx="282.5" cy="615.5"/>
<circle cx="550.5" cy="518.5"/>
<circle cx="274.5" cy="627.5"/>
<circle cx="638.5" cy="453.5"/>
<circle cx="682.5" cy="359.5"/>
<circle cx="584.5" cy="357.5"/>
<circle cx="674.5" cy="324.5"/>
<circle cx="367.5" cy="654.5"/>
<circle cx="464.5" cy="457.5"/>
<circle cx="370.5" cy="686.5"/>
<circle cx="534.5" cy="392.5"/>
<circle cx="280.5" cy="575.5"/>
<circle cx="474.5" cy="565.5"/>
<circle cx="518.5" cy="529.5"/>
<circle cx="512.5" cy="537.5"/>
<circle cx="604.5" cy="374.5"/>
<circle cx="531.5" cy="397.5"/>
<circle cx="676.5" cy="404.5"/>
<circle cx="713.5" cy="297.5"/>
<circle cx="422.5" cy="615.5"/>
<circle cx="668.5" cy="333.5"/>
<circle cx="363.5" cy="657.5"/>
<circle cx="598.5" cy="481.5"/>
<circle cx="412.5" cy="475.5"/>
<circle cx="665.5" cy="385.5"/>
<circle cx="527.5" cy="533.5"/>
<circle cx="283.5" cy="610.5"/>
<circle cx="553.5" cy="420.5"/>
<circle cx="570.5" cy="378.5"/>
<circle cx="292.5" cy="660.5"/>
<circle cx="310.5" cy="680.5"/>
<circle cx="460.5" cy="447.5"/>
<circle cx="322.5" cy="531.5"/>
<circle cx="326.5" cy="517.5"/>
<circle cx="707.5" cy="353.5"/>
<circle cx="705.5" cy="313.5"/>
<circle cx="429.5" cy="609.5"/>
<circle cx="666.5" cy="325.5"/>
<circle cx="335.5" cy="519.5"/>
<circle cx="574.5" cy="381.5"/>
<circle cx="578.5" cy="474.5"/>
<circle cx="392.5" cy="659.5"/>
<circle cx="499.5" cy="421.5"/>
<circle cx="496.5" cy="564.5"/>
<circle cx="324.5" cy="473.5"/>
<circle cx="674.5" cy="343.5"/>
<circle cx="631.5" cy="356.5"/>
<circle cx="601.5" cy="379.5"/>
<circle cx="278.5" cy="734.5"/>
<circle cx="351.5" cy="667.5"/>
<circle cx="572.5" cy="414.5"/>
<circle cx="426.5" cy="609.5"/>
<circle cx="604.5" cy="370.5"/>
<circle cx="513.5" cy="560.5"/>
<circle cx="332.5" cy="676.5"/>
<circle cx="372.5" cy="675.5"/>
<circle cx="320.5" cy="504.5"/>
<circle cx="317.5" cy="684.5"/>
<circle cx="586.5" cy="372.5"/>
<circle cx="640.5" cy="349.5"/>
<circle cx="472.5" cy="444.5"/>
<circle cx="463.5" cy="417.5"/>
<circle cx="537.5" cy="514.5"/>
<circle cx="675.5" cy="352.5"/>
<circle cx="450.5" cy="464.5"/>
<circle cx="676.5" cy="349.5"/>
<circle cx="633.5" cy="406.5"/>
<circle cx="357.5" cy="663.5"/>
<circle cx="472.5" cy="580.5"/>
<circle cx="419.5" cy="665.5"/>
<circle cx="562.5" cy="391.5"/>
<circle cx="689.5" cy="342.5"/>
<circle cx="645.5" cy="395.5"/>
<circle cx="293.5" cy="533.5"/>
<circle cx="515.5" cy="410.5"/>
<circle cx="279.5" cy="625.5"/>
<circle cx="480.5" cy="409.5"/>
<circle cx="431.5" cy="620.5"/>
<circle cx="550.5" cy="407.5"/>
<circle cx="339.5" cy="671.5"/>
<circle cx="755.5" cy="274.5"/>
<circle cx="673.5" cy="381.5"/>
<circle cx="625.5" cy="353.5"/>
<circle cx="463.5" cy="457.5"/>
<circle cx="416.5" cy="624.5"/>
<circle cx="665.5" cy="363.5"/>
<circle cx="513.5" cy="435.5"/>
<circle cx="613.5" cy="360.5"/>
<circle cx="589.5" cy="347.5"/>
<circle cx="407.5" cy="623.5"/>
<circle cx="284.5" cy="563.5"/>
<circle cx="456.5" cy="440.5"/>
<circle cx="543.5" cy="526.5"/>
<circle cx="418.5" cy="458.5"/>
<circle cx="630.5" cy="351.5"/>
<circle cx="541.5" cy="532.5"/>
<circle cx="379.5" cy="642.5"/>
<circle cx="278.5" cy="611.5"/>
<circle cx="462.5" cy="459.5"/>
<circle cx="723.5" cy="308.5"/>
<circle cx="460.5" cy="428.5"/>
<circle cx="286.5" cy="599.5"/>
<circle cx="640.5" cy="399.5"/>
<circle cx="356.5" cy="498.5"/>
<circle cx="295.5" cy="516.5"/>
<circle cx="391.5" cy="637.5"/>
<circle cx="652.5" cy="400.5"/>
<circle cx="666.5" cy="327.5"/>
<circle cx="579.5" cy="515.5"/>
<circle cx="611.5" cy="371.5"/>
<circle cx="285.5" cy="548.5"/>
<circle cx="542.5" cy="417.5"/>
<circle cx="283.5" cy="574.5"/>
<circle cx="571.5" cy="509.5"/>
<circle cx="284.5" cy="647.5"/>
<circle cx="504.5" cy="547.5"/>
<circle cx="466.5" cy="438.5"/>
<circle cx="695.5" cy="322.5"/>
<circle cx="680.5" cy="340.5"/>
<circle cx="282.5" cy="585.5"/>
<circle cx="682.5" cy="321.5"/>
<circle cx="371.5" cy="499.5"/>
<circle cx="694.5" cy="322.5"/>
<circle cx="464.5" cy="579.5"/>
<circle cx="506.5" cy="570.5"/>
<circle cx="516.5" cy="534.5"/>
<circle cx="310.5" cy="520.5"/>
<circle cx="527.5" cy="521.5"/>
<circle cx="507.5" cy="435.5"/>
<circle cx="414.5" cy="622.5"/>
<circle cx="268.5" cy="689.5"/>
<circle cx="726.5" cy="267.5"/>
<circle cx="497.5" cy="545.5"/>
<circle cx="615.5" cy="371.5"/>
<circle cx="464.5" cy="440.5"/>
<circle cx="365.5" cy="681.5"/>
<circle cx="666.5" cy="390.5"/>
<circle cx="303.5" cy="474.5"/>
<circle cx="272.5" cy="637.5"/>
<circle cx="557.5" cy="413.5"/>
<circle cx="297.5" cy="698.5"/>
<circle cx="631.5" cy="406.5"/>
<circle cx="576.5" cy="404.5"/>
<circle cx="456.5" cy="441.5"/>
<circle cx="320.5" cy="518.5"/>
<circle cx="341.5" cy="669.5"/>
<circle cx="415.5" cy="647.5"/>
<circle cx="657.5" cy="410.5"/>
<circle cx="528.5" cy="537.5"/>
<circle cx="656.5" cy="382.5"/>
<circle cx="561.5" cy="412.5"/>
<circle cx="380.5" cy="671.5"/>
<circle cx="693.5" cy="312.5"/>
<circle cx="605.5" cy="442.5"/>
<circle cx="431.5" cy="607.5"/>
<circle cx="708.5" cy="341.5"/>
<circle cx="402.5" cy="440.5"/>
<circle cx="285.5" cy="592.5"/>
<circle cx="510.5" cy="441.5"/>
<circle cx="451.5" cy="599.5"/>
<circle cx="646.5" cy="412.5"/>
<circle cx="291.5" cy="664.5"/>
<circle cx="575.5" cy="495.5"/>
<circle cx="264.5" cy="568.5"/>
<circle cx="530.5" cy="531.5"/>
<circle cx="650.5" cy="392.5"/>
<circle cx="625.5" cy="358.5"/>
<circle cx="634.5" cy="427.5"/>
<circle cx="690.5" cy="362.5"/>
<circle cx="357.5" cy="498.5"/>
<circle cx="388.5" cy="657.5"/>
<circle cx="535.5" cy="401.5"/>
<circle cx="683.5" cy="358.5"/>
<circle cx="600.5" cy="450.5"/>
<circle cx="287.5" cy="607.5"/>
<circle cx="671.5" cy="355.5"/>
<circle cx="706.5" cy="305.5"/>
<circle cx="602.5" cy="446.5"/>
<circle cx="515.5" cy="399.5"/>
<circle cx="364.5" cy="495.5"/>
<circle cx="344.5" cy="494.5"/>
<circle cx="638.5" cy="407.5"/>
<circle cx="689.5" cy="347.5"/>
<circle cx="300.5" cy="682.5"/>
<circle cx="594.5" cy="386.5"/>
<circle cx="335.5" cy="520.5"/>
<circle cx="322.5" cy="497.5"/>
<circle cx="649.5" cy="395.5"/>
<circle cx="565.5" cy="397.5"/>
<circle cx="383.5" cy="645.5"/>
<circle cx="473.5" cy="410.5"/>
<circle cx="287.5" cy="541.5"/>
<circle cx="721.5" cy="310.5"/>
<circle cx="402.5" cy="450.5"/>
<circle cx="321.5" cy="682.5"/>
<circle cx="400.5" cy="467.5"/>
<circle cx="436.5" cy="647.5"/>
<circle cx="510.5" cy="398.5"/>
<circle cx="359.5" cy="507.5"/>
<circle cx="460.5" cy="643.5"/>
<circle cx="281.5" cy="545.5"/>
<circle cx="485.5" cy="443.5"/>
<circle cx="313.5" cy="678.5"/>
<circle cx="512.5" cy="427.5"/>
<circle cx="704.5" cy="349.5"/>
<circle cx="347.5" cy="513.5"/>
<circle cx="293.5" cy="670.5"/>
<circle cx="492.5" cy="393.5"/>
<circle cx="287.5" cy="545.5"/>
<circle cx="268.5" cy="661.5"/>
<circle cx="375.5" cy="649.5"/>
<circle cx="596.5" cy="468.5"/>
<circle cx="272.5" cy="626.5"/>
<circle cx="665.5" cy="366.5"/>
<circle cx="274.5" cy="585.5"/>
<circle cx="556.5" cy="530.5"/>
<circle cx="341.5" cy="517.5"/>
<circle cx="340.5" cy="515.5"/>
<circle cx="336.5" cy="684.5"/>
<circle cx="695.5" cy="309.5"/>
<circle cx="335.5" cy="676.5"/>
<circle cx="283.5" cy="545.5"/>
<circle cx="416.5" cy="621.5"/>
<circle cx="531.5" cy="428.5"/>
<circle cx="550.5" cy="537.5"/>
<circle cx="439.5" cy="470.5"/>
<circle cx="287.5" cy="636.5"/>
<circle cx="292.5" cy="712.5"/>
<circle cx="443.5" cy="601.5"/>
<circle cx="462.5" cy="607.5"/>
<circle cx="518.5" cy="535.5"/>
<circle cx="282.5" cy="700.5"/>
<circle cx="634.5" cy="354.5"/>
<circle cx="644.5" cy="393.5"/>
<circle cx="676.5" cy="327.5"/>
<circle cx="687.5" cy="347.5"/>
<circle cx="698.5" cy="309.5"/>
<circle cx="667.5" cy="384.5"/>
<circle cx="619.5" cy="429.5"/>
<circle cx="687.5" cy="343.5"/>
<circle cx="661.5" cy="379.5"/>
<circle cx="620.5" cy="453.5"/>
<circle cx="376.5" cy="446.5"/>
<circle cx="601.5" cy="378.5"/>
<circle cx="284.5" cy="651.5"/>
<circle cx="703.5" cy="290.5"/>
<circle cx="435.5" cy="468.5"/>
<circle cx="304.5" cy="695.5"/>
<circle cx="483.5" cy="447.5"/>
<circle cx="289.5" cy="624.5"/>
<circle cx="681.5" cy="379.5"/>
<circle cx="729.5" cy="289.5"/>
<circle cx="472.5" cy="584.5"/>
<circle cx="514.5" cy="556.5"/>
<circle cx="681.5" cy="325.5"/>
<circle cx="351.5" cy="514.5"/>
<circle cx="510.5" cy="560.5"/>
<circle cx="468.5" cy="570.5"/>
<circle cx="505.5" cy="438.5"/>
<circle cx="366.5" cy="453.5"/>
<circle cx="704.5" cy="291.5"/>
<circle cx="545.5" cy="357.5"/>
<circle cx="641.5" cy="399.5"/>
<circle cx="475.5" cy="579.5"/>
<circle cx="557.5" cy="407.5"/>
<circle cx="439.5" cy="457.5"/>
<circle cx="292.5" cy="550.5"/>
<circle cx="281.5" cy="619.5"/>
<circle cx="699.5" cy="316.5"/>
<circle cx="581.5" cy="473.5"/>
<circle cx="286.5" cy="585.5"/>
<circle cx="559.5" cy="504.5"/>
<circle cx="275.5" cy="584.5"/>
<circle cx="410.5" cy="648.5"/>
<circle cx="490.5" cy="602.5"/>
<circle cx="339.5" cy="672.5"/>
<circle cx="582.5" cy="378.5"/>
<circle cx="441.5" cy="598.5"/>
<circle cx="310.5" cy="532.5"/>
<circle cx="373.5" cy="483.5"/>
<circle cx="700.5" cy="321.5"/>
<circle cx="417.5" cy="465.5"/>
<circle cx="644.5" cy="402.5"/>
<circle cx="520.5" cy="528.5"/>
<circle cx="549.5" cy="412.5"/>
<circle cx="747.5" cy="295.5"/>
<circle cx="266.5" cy="636.5"/>
<circle cx="536.5" cy="423.5"/>
<circle cx="277.5" cy="723.5"/>
<circle cx="282.5" cy="592.5"/>
<circle cx="599.5" cy="373.5"/>
<circle cx="585.5" cy="481.5"/>
<circle cx="650.5" cy="341.5"/>
<circle cx="466.5" cy="576.5"/>
<circle cx="549.5" cy="538.5"/>
<circle cx="715.5" cy="297.5"/>
<circle cx="296.5" cy="687.5"/>
<circle cx="261.5" cy="668.5"/>
<circle cx="490.5" cy="426.5"/>
<circle cx="559.5" cy="376.5"/>
<circle cx="623.5" cy="434.5"/>
<circle cx="282.5" cy="643.5"/>
<circle cx="666.5" cy="329.5"/>
<circle cx="284.5" cy="621.5"/>
<circle cx="349.5" cy="504.5"/>
<circle cx="548.5" cy="415.5"/>
<circle cx="502.5" cy="399.5"/>
<circle cx="463.5" cy="578.5"/>
<circle cx="290.5" cy="686.5"/>
<circle cx="381.5" cy="465.5"/>
<circle cx="381.5" cy="675.5"/>
<circle cx="469.5" cy="454.5"/>
<circle cx="644.5" cy="412.5"/>
<circle cx="720.5" cy="309.5"/>
<circle cx="464.5" cy="447.5"/>
<circle cx="647.5" cy="411.5"/>
<circle cx="447.5" cy="642.5"/>
<circle cx="321.5" cy="521.5"/>
<circle cx="474.5" cy="596.5"/>
<circle cx="704.5" cy="332.5"/>
<circle cx="388.5" cy="645.5"/>
<circle cx="482.5" cy="452.5"/>
<circle cx="285.5" cy="591.5"/>
<circle cx="402.5" cy="651.5"/>
<circle cx="286.5" cy="648.5"/>
<circle cx="339.5" cy="668.5"/>
<circle cx="451.5" cy="636.5"/>
<circle cx="588.5" cy="472.5"/>
<circle cx="542.5" cy="511.5"/>
<circle cx="421.5" cy="610.5"/>
<circle cx="598.5" cy="483.5"/>
<circle cx="669.5" cy="358.5"/>
<circle cx="279.5" cy="513.5"/>
<circle cx="305.5" cy="542.5"/>
<circle cx="581.5" cy="469.5"/>
<circle cx="473.5" cy="562.5"/>
<circle cx="411.5" cy="656.5"/>
<circle cx="620.5" cy="450.5"/>
<circle cx="492.5" cy="550.5"/>
<circle cx="340.5" cy="667.5"/>
<circle cx="470.5" cy="588.5"/>
<circle cx="442.5" cy="641.5"/>
<circle cx="646.5" cy="393.5"/>
<circle cx="705.5" cy="312.5"/>
<circle cx="326.5" cy="527.5"/>
<circle cx="645.5" cy="419.5"/>
<circle cx="449.5" cy="458.5"/>
<circle cx="430.5" cy="467.5"/>
<circle cx="480.5" cy="449.5"/>
<circle cx="327.5" cy="530.5"/>
<circle cx="534.5" cy="409.5"/>
<circle cx="461.5" cy="420.5"/>
<circle cx="548.5" cy="505.5"/>
<circle cx="344.5" cy="671.5"/>
<circle cx="489.5" cy="400.5"/>
<circle cx="415.5" cy="616.5"/>
<circle cx="651.5" cy="342.5"/>
<circle cx="655.5" cy="330.5"/>
<circle cx="273.5" cy="635.5"/>
<circle cx="463.5" cy="419.5"/>
<circle cx="335.5" cy="522.5"/>
<circle cx="280.5" cy="648.5"/>
<circle cx="530.5" cy="427.5"/>
<circle cx="379.5" cy="641.5"/>
<circle cx="515.5" cy="533.5"/>
<circle cx="630.5" cy="431.5"/>
<circle cx="392.5" cy="640.5"/>
<circle cx="436.5" cy="627.5"/>
<circle cx="520.5" cy="433.5"/>
<circle cx="357.5" cy="511.5"/>
<circle cx="473.5" cy="563.5"/>
<circle cx="373.5" cy="501.5"/>
<circle cx="513.5" cy="402.5"/>
<circle cx="367.5" cy="480.5"/>
<circle cx="475.5" cy="563.5"/>
<circle cx="413.5" cy="631.5"/>
<circle cx="611.5" cy="441.5"/>
<circle cx="506.5" cy="441.5"/>
<circle cx="294.5" cy="675.5"/>
<circle cx="456.5" cy="456.5"/>
<circle cx="467.5" cy="577.5"/>
<circle cx="669.5" cy="328.5"/>
<circle cx="529.5" cy="366.5"/>
<circle cx="706.5" cy="308.5"/>
<circle cx="291.5" cy="655.5"/>
<circle cx="351.5" cy="670.5"/>
<circle cx="416.5" cy="619.5"/>
<circle cx="508.5" cy="435.5"/>
<circle cx="275.5" cy="585.5"/>
<circle cx="557.5" cy="394.5"/>
<circle cx="549.5" cy="415.5"/>
<circle cx="272.5" cy="670.5"/>
<circle cx="437.5" cy="598.5"/>
<circle cx="411.5" cy="645.5"/>
<circle cx="460.5" cy="444.5"/>
<circle cx="492.5" cy="599.5"/>
<circle cx="299.5" cy="552.5"/>
<circle cx="515.5" cy="411.5"/>
<circle cx="685.5" cy="353.5"/>
<circle cx="297.5" cy="531.5"/>
<circle cx="552.5" cy="387.5"/>
<circle cx="403.5" cy="469.5"/>
<circle cx="582.5" cy="469.5"/>
<circle cx="614.5" cy="354.5"/>
<circle cx="531.5" cy="529.5"/>
<circle cx="479.5" cy="446.5"/>
<circle cx="365.5" cy="499.5"/>
<circle cx="338.5" cy="683.5"/>
<circle cx="526.5" cy="548.5"/>
<circle cx="561.5" cy="407.5"/>
<circle cx="440.5" cy="604.5"/>
<circle cx="457.5" cy="456.5"/>
<circle cx="659.5" cy="373.5"/>
<circle cx="514.5" cy="534.5"/>
<circle cx="286.5" cy="579.5"/>
<circle cx="693.5" cy="346.5"/>
<circle cx="290.5" cy="675.5"/>
<circle cx="689.5" cy="321.5"/>
<circle cx="352.5" cy="660.5"/>
<circle cx="600.5" cy="376.5"/>
<circle cx="636.5" cy="429.5"/>
<circle cx="290.5" cy="590.5"/>
<circle cx="582.5" cy="480.5"/>
<circle cx="506.5" cy="551.5"/>
<circle cx="609.5" cy="440.5"/>
<circle cx="544.5" cy="406.5"/>
<circle cx="348.5" cy="673.5"/>
<circle cx="669.5" cy="377.5"/>
<circle cx="671.5" cy="356.5"/>
<circle cx="531.5" cy="522.5"/>
<circle cx="440.5" cy="452.5"/>
<circle cx="592.5" cy="469.5"/>
<circle cx="317.5" cy="677.5"/>
<circle cx="527.5" cy="427.5"/>
<circle cx="363.5" cy="656.5"/>
<circle cx="459.5" cy="458.5"/>
<circle cx="683.5" cy="360.5"/>
<circle cx="395.5" cy="490.5"/>
<circle cx="590.5" cy="510.5"/>
<circle cx="267.5" cy="695.5"/>
<circle cx="523.5" cy="526.5"/>
<circle cx="580.5" cy="388.5"/>
<circle cx="458.5" cy="581.5"/>
<circle cx="699.5" cy="306.5"/>
<circle cx="345.5" cy="516.5"/>
<circle cx="301.5" cy="696.5"/>
<circle cx="499.5" cy="553.5"/>
<circle cx="289.5" cy="658.5"/>
<circle cx="710.5" cy="322.5"/>
<circle cx="668.5" cy="330.5"/>
<circle cx="309.5" cy="718.5"/>
<circle cx="369.5" cy="496.5"/>
<circle cx="615.5" cy="436.5"/>
<circle cx="613.5" cy="361.5"/>
<circle cx="724.5" cy="282.5"/>
<circle cx="322.5" cy="532.5"/>
<circle cx="439.5" cy="597.5"/>
<circle cx="316.5" cy="534.5"/>
<circle cx="627.5" cy="360.5"/>
<circle cx="316.5" cy="680.5"/>
<circle cx="453.5" cy="603.5"/>
<circle cx="662.5" cy="370.5"/>
<circle cx="608.5" cy="359.5"/>
<circle cx="342.5" cy="667.5"/>
<circle cx="385.5" cy="651.5"/>
<circle cx="600.5" cy="480.5"/>
<circle cx="655.5" cy="309.5"/>
<circle cx="585.5" cy="390.5"/>
<circle cx="290.5" cy="648.5"/>
<circle cx="260.5" cy="568.5"/>
<circle cx="313.5" cy="680.5"/>
<circle cx="739.5" cy="286.5"/>
<circle cx="448.5" cy="459.5"/>
<circle cx="497.5" cy="581.5"/>
<circle cx="648.5" cy="328.5"/>
<circle cx="341.5" cy="519.5"/>
<circle cx="493.5" cy="447.5"/>
<circle cx="521.5" cy="533.5"/>
<circle cx="348.5" cy="489.5"/>
<circle cx="681.5" cy="321.5"/>
<circle cx="537.5" cy="518.5"/>
<circle cx="501.5" cy="404.5"/>
<circle cx="683.5" cy="378.5"/>
<circle cx="583.5" cy="399.5"/>
<circle cx="385.5" cy="494.5"/>
<circle cx="651.5" cy="394.5"/>
<circle cx="628.5" cy="414.5"/>
<circle cx="531.5" cy="402.5"/>
<circle cx="436.5" cy="460.5"/>
<circle cx="308.5" cy="515.5"/>
<circle cx="555.5" cy="503.5"/>
<circle cx="270.5" cy="518.5"/>
<circle cx="425.5" cy="451.5"/>
<circle cx="476.5" cy="439.5"/>
<circle cx="340.5" cy="520.5"/>
<circle cx="443.5" cy="465.5"/>
<circle cx="485.5" cy="439.5"/>
<circle cx="549.5" cy="419.5"/>
<circle cx="412.5" cy="454.5"/>
<circle cx="308.5" cy="544.5"/>
<circle cx="719.5" cy="301.5"/>
<circle cx="372.5" cy="495.5"/>
<circle cx="386.5" cy="656.5"/>
<circle cx="531.5" cy="427.5"/>
<circle cx="703.5" cy="300.5"/>
<circle cx="431.5" cy="599.5"/>
<circle cx="587.5" cy="465.5"/>
<circle cx="345.5" cy="726.5"/>
<circle cx="440.5" cy="464.5"/>
<circle cx="716.5" cy="303.5"/>
<circle cx="652.5" cy="418.5"/>
<circle cx="448.5" cy="597.5"/>
<circle cx="534.5" cy="425.5"/>
<circle cx="650.5" cy="407.5"/>
<circle cx="371.5" cy="496.5"/>
<circle cx="502.5" cy="543.5"/>
<circle cx="293.5" cy="677.5"/>
<circle cx="598.5" cy="472.5"/>
<circle cx="439.5" cy="463.5"/>
<circle cx="526.5" cy="524.5"/>
<circle cx="462.5" cy="590.5"/>
<circle cx="348.5" cy="491.5"/>
<circle cx="288.5" cy="581.5"/>
<circle cx="717.5" cy="295.5"/>
<circle cx="487.5" cy="554.5"/>
<circle cx="585.5" cy="487.5"/>
<circle cx="513.5" cy="425.5"/>
<circle cx="477.5" cy="449.5"/>
<circle cx="324.5" cy="460.5"/>
<circle cx="607.5" cy="376.5"/>
<circle cx="366.5" cy="665.5"/>
<circle cx="517.5" cy="430.5"/>
<circle cx="499.5" cy="558.5"/>
<circle cx="431.5" cy="451.5"/>
<circle cx="584.5" cy="387.5"/>
<circle cx="293.5" cy="562.5"/>
<circle cx="364.5" cy="692.5"/>
<circle cx="533.5" cy="400.5"/>
<circle cx="434.5" cy="461.5"/>
<circle cx="660.5" cy="380.5"/>
<circle cx="270.5" cy="585.5"/>
<circle cx="391.5" cy="641.5"/>
<circle cx="625.5" cy="422.5"/>
<circle cx="655.5" cy="386.5"/>
<circle cx="657.5" cy="334.5"/>
<circle cx="606.5" cy="356.5"/>
<circle cx="602.5" cy="383.5"/>
<circle cx="422.5" cy="627.5"/>
<circle cx="494.5" cy="552.5"/>
<circle cx="276.5" cy="641.5"/>
<circle cx="387.5" cy="491.5"/>
<circle cx="630.5" cy="337.5"/>
<circle cx="278.5" cy="532.5"/>
<circle cx="740.5" cy="280.5"/>
<circle cx="422.5" cy="668.5"/>
<circle cx="363.5" cy="496.5"/>
<circle cx="319.5" cy="535.5"/>
<circle cx="697.5" cy="310.5"/>
<circle cx="538.5" cy="382.5"/>
<circle cx="389.5" cy="472.5"/>
<circle cx="650.5" cy="344.5"/>
<circle cx="337.5" cy="525.5"/>
<circle cx="310.5" cy="543.5"/>
<circle cx="461.5" cy="452.5"/>
<circle cx="315.5" cy="530.5"/>
<circle cx="371.5" cy="473.5"/>
<circle cx="614.5" cy="367.5"/>
<circle cx="248.5" cy="524.5"/>
<circle cx="287.5" cy="630.5"/>
<circle cx="290.5" cy="664.5"/>
<circle cx="595.5" cy="455.5"/>
<circle cx="440.5" cy="417.5"/>
<circle cx="455.5" cy="624.5"/>
<circle cx="725.5" cy="299.5"/>
<circle cx="284.5" cy="581.5"/>
<circle cx="285.5" cy="636.5"/>
<circle cx="570.5" cy="496.5"/>
<circle cx="636.5" cy="414.5"/>
<circle cx="615.5" cy="365.5"/>
<circle cx="305.5" cy="546.5"/>
<circle cx="502.5" cy="431.5"/>
<circle cx="414.5" cy="465.5"/>
<circle cx="396.5" cy="645.5"/>
<circle cx="452.5" cy="579.5"/>
<circle cx="302.5" cy="543.5"/>
<circle cx="506.5" cy="395.5"/>
<circle cx="566.5" cy="393.5"/>
<circle cx="583.5" cy="465.5"/>
<circle cx="597.5" cy="380.5"/>
<circle cx="273.5" cy="709.5"/>
<circle cx="558.5" cy="390.5"/>
<circle cx="504.5" cy="417.5"/>
<circle cx="287.5" cy="580.5"/>
<circle cx="403.5" cy="626.5"/>
<circle cx="476.5" cy="603.5"/>
<circle cx="281.5" cy="607.5"/>
<circle cx="686.5" cy="345.5"/>
<circle cx="470.5" cy="617.5"/>
<circle cx="323.5" cy="506.5"/>
<circle cx="682.5" cy="351.5"/>
<circle cx="570.5" cy="388.5"/>
<circle cx="573.5" cy="385.5"/>
<circle cx="531.5" cy="523.5"/>
<circle cx="475.5" cy="566.5"/>
<circle cx="473.5" cy="415.5"/>
<circle cx="296.5" cy="554.5"/>
<circle cx="533.5" cy="422.5"/>
<circle cx="324.5" cy="675.5"/>
<circle cx="435.5" cy="642.5"/>
<circle cx="609.5" cy="458.5"/>
<circle cx="677.5" cy="370.5"/>
<circle cx="581.5" cy="381.5"/>
<circle cx="441.5" cy="425.5"/>
<circle cx="263.5" cy="602.5"/>
<circle cx="553.5" cy="512.5"/>
<circle cx="409.5" cy="475.5"/>
<circle cx="317.5" cy="521.5"/>
<circle cx="443.5" cy="591.5"/>
<circle cx="567.5" cy="408.5"/>
<circle cx="664.5" cy="333.5"/>
<circle cx="653.5" cy="387.5"/>
<circle cx="644.5" cy="398.5"/>
<circle cx="374.5" cy="681.5"/>
<circle cx="676.5" cy="374.5"/>
<circle cx="409.5" cy="624.5"/>
<circle cx="542.5" cy="416.5"/>
<circle cx="285.5" cy="645.5"/>
<circle cx="704.5" cy="345.5"/>
<circle cx="503.5" cy="442.5"/>
<circle cx="340.5" cy="681.5"/>
<circle cx="428.5" cy="473.5"/>
<circle cx="423.5" cy="621.5"/>
<circle cx="683.5" cy="326.5"/>
<circle cx="613.5" cy="441.5"/>
<circle cx="403.5" cy="444.5"/>
<circle cx="579.5" cy="473.5"/>
<circle cx="641.5" cy="352.5"/>
<circle cx="385.5" cy="637.5"/>
<circle cx="420.5" cy="475.5"/>
<circle cx="411.5" cy="482.5"/>
<circle cx="602.5" cy="371.5"/>
<circle cx="286.5" cy="567.5"/>
<circle cx="623.5" cy="457.5"/>
<circle cx="272.5" cy="624.5"/>
<circle cx="474.5" cy="574.5"/>
<circle cx="634.5" cy="425.5"/>
<circle cx="476.5" cy="448.5"/>
<circle cx="473.5" cy="442.5"/>
<circle cx="290.5" cy="575.5"/>
<circle cx="286.5" cy="713.5"/>
<circle cx="677.5" cy="365.5"/>
<circle cx="589.5" cy="391.5"/>
<circle cx="729.5" cy="288.5"/>
<circle cx="284.5" cy="603.5"/>
<circle cx="384.5" cy="646.5"/>
<circle cx="576.5" cy="376.5"/>
<circle cx="674.5" cy="345.5"/>
<circle cx="432.5" cy="469.5"/>
<circle cx="506.5" cy="409.5"/>
<circle cx="351.5" cy="680.5"/>
<circle cx="411.5" cy="470.5"/>
<circle cx="710.5" cy="300.5"/>
<circle cx="286.5" cy="565.5"/>
<circle cx="734.5" cy="301.5"/>
<circle cx="658.5" cy="381.5"/>
<circle cx="368.5" cy="474.5"/>
<circle cx="609.5" cy="376.5"/>
<circle cx="484.5" cy="554.5"/>
<circle cx="389.5" cy="639.5"/>
<circle cx="401.5" cy="660.5"/>
<circle cx="668.5" cy="362.5"/>
<circle cx="627.5" cy="427.5"/>
<circle cx="666.5" cy="413.5"/>
<circle cx="632.5" cy="416.5"/>
<circle cx="273.5" cy="658.5"/>
<circle cx="577.5" cy="484.5"/>
<circle cx="289.5" cy="649.5"/>
<circle cx="480.5" cy="426.5"/>
<circle cx="338.5" cy="515.5"/>
<circle cx="716.5" cy="283.5"/>
<circle cx="400.5" cy="642.5"/>
<circle cx="452.5" cy="620.5"/>
<circle cx="472.5" cy="573.5"/>
<circle cx="378.5" cy="649.5"/>
<circle cx="583.5" cy="463.5"/>
<circle cx="584.5" cy="470.5"/>
<circle cx="588.5" cy="396.5"/>
<circle cx="432.5" cy="459.5"/>
<circle cx="519.5" cy="415.5"/>
<circle cx="701.5" cy="307.5"/>
<circle cx="469.5" cy="575.5"/>
<circle cx="728.5" cy="296.5"/>
<circle cx="515.5" cy="544.5"/>
<circle cx="702.5" cy="346.5"/>
<circle cx="470.5" cy="570.5"/>
<circle cx="678.5" cy="381.5"/>
<circle cx="537.5" cy="530.5"/>
<circle cx="323.5" cy="691.5"/>
<circle cx="437.5" cy="448.5"/>
<circle cx="283.5" cy="653.5"/>
<circle cx="360.5" cy="673.5"/>
<circle cx="428.5" cy="677.5"/>
<circle cx="521.5" cy="558.5"/>
<circle cx="295.5" cy="695.5"/>
<circle cx="538.5" cy="393.5"/>
<circle cx="704.5" cy="307.5"/>
<circle cx="401.5" cy="634.5"/>
<circle cx="664.5" cy="364.5"/>
<circle cx="410.5" cy="432.5"/>
<circle cx="510.5" cy="425.5"/>
<circle cx="288.5" cy="605.5"/>
<circle cx="582.5" cy="468.5"/>
<circle cx="580.5" cy="379.5"/>
<circle cx="439.5" cy="468.5"/>
<circle cx="663.5" cy="401.5"/>
<circle cx="389.5" cy="489.5"/>
<circle cx="534.5" cy="419.5"/>
<circle cx="654.5" cy="395.5"/>
<circle cx="691.5" cy="312.5"/>
<circle cx="575.5" cy="493.5"/>
<circle cx="280.5" cy="708.5"/>
<circle cx="291.5" cy="716.5"/>
<circle cx="650.5" cy="413.5"/>
<circle cx="278.5" cy="620.5"/>
<circle cx="291.5" cy="636.5"/>
<circle cx="448.5" cy="590.5"/>
<circle cx="420.5" cy="614.5"/>
<circle cx="663.5" cy="330.5"/>
<circle cx="486.5" cy="422.5"/>
<circle cx="443.5" cy="608.5"/>
<circle cx="728.5" cy="295.5"/>
<circle cx="276.5" cy="654.5"/>
<circle cx="646.5" cy="344.5"/>
<circle cx="668.5" cy="393.5"/>
<circle cx="714.5" cy="316.5"/>
<circle cx="456.5" cy="450.5"/>
<circle cx="553.5" cy="500.5"/>
<circle cx="372.5" cy="500.5"/>
<circle cx="527.5" cy="532.5"/>
<circle cx="699.5" cy="313.5"/>
<circle cx="673.5" cy="319.5"/>
<circle cx="339.5" cy="519.5"/>
<circle cx="450.5" cy="448.5"/>
<circle cx="378.5" cy="498.5"/>
<circle cx="439.5" cy="466.5"/>
<circle cx="484.5" cy="433.5"/>
<circle cx="605.5" cy="375.5"/>
<circle cx="326.5" cy="706.5"/>
<circle cx="276.5" cy="686.5"/>
<circle cx="281.5" cy="676.5"/>
<circle cx="506.5" cy="540.5"/>
<circle cx="396.5" cy="676.5"/>
<circle cx="635.5" cy="422.5"/>
<circle cx="664.5" cy="378.5"/>
<circle cx="377.5" cy="481.5"/>
<circle cx="451.5" cy="461.5"/>
<circle cx="424.5" cy="471.5"/>
<circle cx="288.5" cy="585.5"/>
<circle cx="725.5" cy="308.5"/>
<circle cx="419.5" cy="611.5"/>
<circle cx="291.5" cy="612.5"/>
<circle cx="353.5" cy="504.5"/>
<circle cx="263.5" cy="603.5"/>
<circle cx="648.5" cy="320.5"/>
<circle cx="293.5" cy="569.5"/>
<circle cx="577.5" cy="388.5"/>
<circle cx="498.5" cy="595.5"/>
<circle cx="581.5" cy="470.5"/>
<circle cx="307.5" cy="705.5"/>
<circle cx="432.5" cy="614.5"/>
<circle cx="277.5" cy="658.5"/>
<circle cx="459.5" cy="459.5"/>
<circle cx="275.5" cy="624.5"/>
<circle cx="488.5" cy="430.5"/>
<circle cx="432.5" cy="442.5"/>
<circle cx="431.5" cy="598.5"/>
<circle cx="649.5" cy="338.5"/>
<circle cx="568.5" cy="498.5"/>
<circle cx="328.5" cy="503.5"/>
<circle cx="603.5" cy="468.5"/>
<circle cx="288.5" cy="573.5"/>
<circle cx="296.5" cy="547.5"/>
<circle cx="656.5" cy="398.5"/>
<circle cx="414.5" cy="454.5"/>
<circle cx="429.5" cy="646.5"/>
<circle cx="240.5" cy="693.5"/>
<circle cx="329.5" cy="530.5"/>
<circle cx="335.5" cy="692.5"/>
<circle cx="456.5" cy="428.5"/>
<circle cx="462.5" cy="585.5"/>
<circle cx="437.5" cy="470.5"/>
<circle cx="287.5" cy="648.5"/>
<circle cx="701.5" cy="320.5"/>
<circle cx="326.5" cy="708.5"/>
<circle cx="260.5" cy="664.5"/>
<circle cx="381.5" cy="648.5"/>
<circle cx="737.5" cy="277.5"/>
<circle cx="571.5" cy="402.5"/>
<circle cx="537.5" cy="513.5"/>
<circle cx="646.5" cy="417.5"/>
<circle cx="503.5" cy="548.5"/>
<circle cx="660.5" cy="377.5"/>
<circle cx="367.5" cy="487.5"/>
<circle cx="529.5" cy="548.5"/>
<circle cx="564.5" cy="497.5"/>
<circle cx="444.5" cy="466.5"/>
<circle cx="306.5" cy="513.5"/>
<circle cx="410.5" cy="627.5"/>
<circle cx="644.5" cy="341.5"/>
<circle cx="735.5" cy="283.5"/>
<circle cx="472.5" cy="452.5"/>
<circle cx="401.5" cy="467.5"/>
<circle cx="510.5" cy="568.5"/>
<circle cx="523.5" cy="524.5"/>
<circle cx="282.5" cy="509.5"/>
<circle cx="626.5" cy="352.5"/>
<circle cx="626.5" cy="356.5"/>
<circle cx="471.5" cy="441.5"/>
<circle cx="661.5" cy="338.5"/>
<circle cx="466.5" cy="441.5"/>
<circle cx="656.5" cy="381.5"/>
<circle cx="259.5" cy="683.5"/>
<circle cx="315.5" cy="679.5"/>
<circle cx="261.5" cy="659.5"/>
<circle cx="529.5" cy="527.5"/>
<circle cx="429.5" cy="466.5"/>
<circle cx="655.5" cy="343.5"/>
<circle cx="445.5" cy="630.5"/>
<circle cx="288.5" cy="664.5"/>
<circle cx="435.5" cy="600.5"/>
<circle cx="584.5" cy="363.5"/>
<circle cx="277.5" cy="578.5"/>
<circle cx="475.5" cy="446.5"/>
<circle cx="477.5" cy="430.5"/>
<circle cx="419.5" cy="433.5"/>
<circle cx="512.5" cy="438.5"/>
<circle cx="464.5" cy="571.5"/>
<circle cx="400.5" cy="482.5"/>
<circle cx="565.5" cy="545.5"/>
<circle cx="424.5" cy="642.5"/>
<circle cx="728.5" cy="283.5"/>
<circle cx="309.5" cy="505.5"/>
<circle cx="275.5" cy="518.5"/>
<circle cx="530.5" cy="413.5"/>
<circle cx="500.5" cy="549.5"/>
<circle cx="563.5" cy="516.5"/>
<circle cx="455.5" cy="578.5"/>
<circle cx="487.5" cy="556.5"/>
<circle cx="520.5" cy="530.5"/>
<circle cx="377.5" cy="440.5"/>
<circle cx="465.5" cy="451.5"/>
<circle cx="291.5" cy="718.5"/>
<circle cx="547.5" cy="522.5"/>
<circle cx="276.5" cy="550.5"/>
<circle cx="582.5" cy="380.5"/>
<circle cx="621.5" cy="428.5"/>
<circle cx="400.5" cy="484.5"/>
<circle cx="532.5" cy="428.5"/>
<circle cx="484.5" cy="432.5"/>
<circle cx="666.5" cy="358.5"/>
<circle cx="554.5" cy="503.5"/>
<circle cx="289.5" cy="607.5"/>
<circle cx="401.5" cy="486.5"/>
<circle cx="605.5" cy="379.5"/>
<circle cx="307.5" cy="739.5"/>
<circle cx="425.5" cy="453.5"/>
<circle cx="698.5" cy="325.5"/>
<circle cx="432.5" cy="602.5"/>
<circle cx="685.5" cy="365.5"/>
<circle cx="508.5" cy="555.5"/>
<circle cx="407.5" cy="627.5"/>
<circle cx="408.5" cy="436.5"/>
<circle cx="475.5" cy="587.5"/>
<circle cx="496.5" cy="440.5"/>
<circle cx="268.5" cy="650.5"/>
<circle cx="358.5" cy="698.5"/>
<circle cx="392.5" cy="461.5"/>
<circle cx="539.5" cy="365.5"/>
<circle cx="576.5" cy="402.5"/>
<circle cx="415.5" cy="659.5"/>
<circle cx="453.5" cy="581.5"/>
<circle cx="286.5" cy="555.5"/>
<circle cx="302.5" cy="550.5"/>
<circle cx="371.5" cy="663.5"/>
<circle cx="648.5" cy="396.5"/>
<circle cx="537.5" cy="566.5"/>
<circle cx="663.5" cy="382.5"/>
<circle cx="365.5" cy="714.5"/>
<circle cx="482.5" cy="573.5"/>
<circle cx="424.5" cy="603.5"/>
<circle cx="480.5" cy="578.5"/>
<circle cx="504.5" cy="541.5"/>
<circle cx="591.5" cy="365.5"/>
<circle cx="362.5" cy="471.5"/>
<circle cx="287.5" cy="558.5"/>
<circle cx="467.5" cy="451.5"/>
<circle cx="618.5" cy="465.5"/>
<circle cx="492.5" cy="449.5"/>
<circle cx="581.5" cy="484.5"/>
<circle cx="359.5" cy="491.5"/>
<circle cx="255.5" cy="695.5"/>
<circle cx="375.5" cy="650.5"/>
<circle cx="271.5" cy="582.5"/>
<circle cx="417.5" cy="657.5"/>
<circle cx="364.5" cy="679.5"/>
<circle cx="706.5" cy="317.5"/>
<circle cx="632.5" cy="430.5"/>
<circle cx="288.5" cy="673.5"/>
<circle cx="273.5" cy="598.5"/>
<circle cx="392.5" cy="487.5"/>
<circle cx="468.5" cy="410.5"/>
<circle cx="585.5" cy="392.5"/>
<circle cx="330.5" cy="697.5"/>
<circle cx="629.5" cy="426.5"/>
<circle cx="332.5" cy="671.5"/>
<circle cx="548.5" cy="558.5"/>
<circle cx="555.5" cy="500.5"/>
<circle cx="331.5" cy="674.5"/>
<circle cx="270.5" cy="651.5"/>
<circle cx="285.5" cy="624.5"/>
<circle cx="601.5" cy="469.5"/>
<circle cx="402.5" cy="656.5"/>
<circle cx="273.5" cy="698.5"/>
<circle cx="664.5" cy="359.5"/>
<circle cx="286.5" cy="610.5"/>
<circle cx="533.5" cy="517.5"/>
<circle cx="362.5" cy="657.5"/>
<circle cx="563.5" cy="497.5"/>
<circle cx="355.5" cy="507.5"/>
<circle cx="394.5" cy="636.5"/>
<circle cx="406.5" cy="641.5"/>
<circle cx="636.5" cy="405.5"/>
<circle cx="433.5" cy="471.5"/>
<circle cx="613.5" cy="450.5"/>
<circle cx="287.5" cy="598.5"/>
<circle cx="576.5" cy="348.5"/>
<circle cx="661.5" cy="361.5"/>
<circle cx="575.5" cy="498.5"/>
<circle cx="585.5" cy="391.5"/>
<circle cx="364.5" cy="499.5"/>
<circle cx="264.5" cy="557.5"/>
<circle cx="516.5" cy="430.5"/>
<circle cx="368.5" cy="495.5"/>
<circle cx="435.5" cy="632.5"/>
<circle cx="683.5" cy="322.5"/>
<circle cx="440.5" cy="468.5"/>
<circle cx="514.5" cy="409.5"/>
<circle cx="689.5" cy="316.5"/>
<circle cx="276.5" cy="563.5"/>
<circle cx="491.5" cy="448.5"/>
<circle cx="394.5" cy="488.5"/>
<circle cx="519.5" cy="531.5"/>
<circle cx="671.5" cy="317.5"/>
<circle cx="494.5" cy="443.5"/>
<circle cx="586.5" cy="459.5"/>
<circle cx="492.5" cy="400.5"/>
<circle cx="466.5" cy="436.5"/>
<circle cx="708.5" cy="338.5"/>
<circle cx="270.5" cy="588.5"/>
<circle cx="671.5" cy="322.5"/>
<circle cx="277.5" cy="573.5"/>
<circle cx="300.5" cy="498.5"/>
<circle cx="579.5" cy="488.5"/>
<circle cx="511.5" cy="577.5"/>
<circle cx="357.5" cy="489.5"/>
<circle cx="685.5" cy="362.5"/>
<circle cx="523.5" cy="431.5"/>
<circle cx="487.5" cy="587.5"/>
<circle cx="432.5" cy="647.5"/>
<circle cx="278.5" cy="505.5"/>
<circle cx="512.5" cy="404.5"/>
<circle cx="538.5" cy="518.5"/>
<circle cx="312.5" cy="699.5"/>
<circle cx="524.5" cy="422.5"/>
<circle cx="676.5" cy="339.5"/>
<circle cx="526.5" cy="532.5"/>
<circle cx="538.5" cy="511.5"/>
<circle cx="573.5" cy="403.5"/>
<circle cx="497.5" cy="444.5"/>
<circle cx="682.5" cy="309.5"/>
<circle cx="372.5" cy="458.5"/>
<circle cx="398.5" cy="653.5"/>
<circle cx="301.5" cy="674.5"/>
<circle cx="656.5" cy="344.5"/>
<circle cx="480.5" cy="444.5"/>
<circle cx="289.5" cy="644.5"/>
<circle cx="388.5" cy="677.5"/>
<circle cx="602.5" cy="375.5"/>
<circle cx="391.5" cy="638.5"/>
<circle cx="516.5" cy="436.5"/>
<circle cx="356.5" cy="666.5"/>
<circle cx="311.5" cy="532.5"/>
<circle cx="385.5" cy="656.5"/>
<circle cx="288.5" cy="695.5"/>
<circle cx="341.5" cy="515.5"/>
<circle cx="443.5" cy="620.5"/>
<circle cx="270.5" cy="684.5"/>
<circle cx="553.5" cy="418.5"/>
<circle cx="656.5" cy="317.5"/>
<circle cx="508.5" cy="538.5"/>
<circle cx="467.5" cy="448.5"/>
<circle cx="621.5" cy="441.5"/>
<circle cx="691.5" cy="327.5"/>
<circle cx="283.5" cy="655.5"/>
<circle cx="580.5" cy="394.5"/>
<circle cx="316.5" cy="694.5"/>
<circle cx="489.5" cy="554.5"/>
<circle cx="546.5" cy="515.5"/>
<circle cx="728.5" cy="331.5"/>
<circle cx="580.5" cy="501.5"/>
<circle cx="289.5" cy="675.5"/>
<circle cx="702.5" cy="341.5"/>
<circle cx="628.5" cy="434.5"/>
<circle cx="411.5" cy="476.5"/>
<circle cx="284.5" cy="616.5"/>
<circle cx="588.5" cy="343.5"/>
<circle cx="672.5" cy="325.5"/>
<circle cx="659.5" cy="389.5"/>
<circle cx="402.5" cy="464.5"/>
<circle cx="266.5" cy="573.5"/>
<circle cx="301.5" cy="678.5"/>
<circle cx="300.5" cy="526.5"/>
<circle cx="363.5" cy="693.5"/>
<circle cx="548.5" cy="512.5"/>
<circle cx="372.5" cy="669.5"/>
<circle cx="582.5" cy="488.5"/>
<circle cx="559.5" cy="531.5"/>
<circle cx="329.5" cy="524.5"/>
<circle cx="542.5" cy="541.5"/>
<circle cx="524.5" cy="424.5"/>
<circle cx="321.5" cy="674.5"/>
<circle cx="579.5" cy="510.5"/>
<circle cx="291.5" cy="614.5"/>
<circle cx="470.5" cy="421.5"/>
<circle cx="409.5" cy="650.5"/>
<circle cx="565.5" cy="373.5"/>
<circle cx="279.5" cy="634.5"/>
<circle cx="269.5" cy="643.5"/>
<circle cx="271.5" cy="578.5"/>
<circle cx="331.5" cy="688.5"/>
<circle cx="580.5" cy="403.5"/>
<circle cx="605.5" cy="452.5"/>
<circle cx="376.5" cy="495.5"/>
<circle cx="294.5" cy="525.5"/>
<circle cx="295.5" cy="716.5"/>
<circle cx="275.5" cy="661.5"/>
<circle cx="446.5" cy="428.5"/>
<circle cx="293.5" cy="664.5"/>
<circle cx="435.5" cy="622.5"/>
<circle cx="453.5" cy="619.5"/>
<circle cx="665.5" cy="332.5"/>
<circle cx="538.5" cy="513.5"/>
<circle cx="683.5" cy="317.5"/>
<circle cx="527.5" cy="534.5"/>
<circle cx="359.5" cy="683.5"/>
<circle cx="588.5" cy="384.5"/>
<circle cx="681.5" cy="353.5"/>
<circle cx="416.5" cy="634.5"/>
<circle cx="454.5" cy="429.5"/>
<circle cx="625.5" cy="355.5"/>
<circle cx="289.5" cy="595.5"/>
<circle cx="688.5" cy="340.5"/>
<circle cx="496.5" cy="569.5"/>
<circle cx="415.5" cy="432.5"/>
<circle cx="593.5" cy="386.5"/>
<circle cx="453.5" cy="587.5"/>
<circle cx="612.5" cy="371.5"/>
<circle cx="481.5" cy="405.5"/>
<circle cx="629.5" cy="428.5"/>
<circle cx="712.5" cy="300.5"/>
<circle cx="691.5" cy="342.5"/>
<circle cx="270.5" cy="638.5"/>
<circle cx="268.5" cy="680.5"/>
<circle cx="631.5" cy="421.5"/>
<circle cx="406.5" cy="464.5"/>
<circle cx="455.5" cy="457.5"/>
<circle cx="363.5" cy="491.5"/>
<circle cx="289.5" cy="613.5"/>
<circle cx="662.5" cy="371.5"/>
<circle cx="270.5" cy="675.5"/>
<circle cx="560.5" cy="386.5"/>
<circle cx="698.5" cy="305.5"/>
<circle cx="337.5" cy="674.5"/>
<circle cx="264.5" cy="692.5"/>
<circle cx="614.5" cy="361.5"/>
<circle cx="562.5" cy="499.5"/>
<circle cx="597.5" cy="449.5"/>
<circle cx="610.5" cy="374.5"/>
<circle cx="487.5" cy="424.5"/>
<circle cx="389.5" cy="648.5"/>
<circle cx="290.5" cy="591.5"/>
<circle cx="277.5" cy="595.5"/>
<circle cx="572.5" cy="411.5"/>
<circle cx="683.5" cy="355.5"/>
<circle cx="568.5" cy="516.5"/>
<circle cx="281.5" cy="705.5"/>
<circle cx="483.5" cy="567.5"/>
<circle cx="405.5" cy="628.5"/>
<circle cx="395.5" cy="463.5"/>
<circle cx="423.5" cy="614.5"/>
<circle cx="552.5" cy="414.5"/>
<circle cx="381.5" cy="492.5"/>
<circle cx="423.5" cy="606.5"/>
<circle cx="410.5" cy="456.5"/>
<circle cx="293.5" cy="564.5"/>
<circle cx="665.5" cy="404.5"/>
<circle cx="358.5" cy="661.5"/>
<circle cx="559.5" cy="510.5"/>
<circle cx="670.5" cy="390.5"/>
<circle cx="449.5" cy="582.5"/>
<circle cx="280.5" cy="524.5"/>
<circle cx="297.5" cy="561.5"/>
<circle cx="479.5" cy="444.5"/>
<circle cx="624.5" cy="422.5"/>
<circle cx="634.5" cy="407.5"/>
<circle cx="482.5" cy="577.5"/>
<circle cx="562.5" cy="495.5"/>
<circle cx="610.5" cy="357.5"/>
<circle cx="276.5" cy="637.5"/>
<circle cx="484.5" cy="560.5"/>
<circle cx="656.5" cy="428.5"/>
<circle cx="275.5" cy="683.5"/>
<circle cx="495.5" cy="552.5"/>
<circle cx="673.5" cy="354.5"/>
<circle cx="583.5" cy="380.5"/>
<circle cx="669.5" cy="333.5"/>
<circle cx="501.5" cy="443.5"/>
<circle cx="274.5" cy="654.5"/>
<circle cx="574.5" cy="400.5"/>
<circle cx="548.5" cy="514.5"/>
<circle cx="710.5" cy="280.5"/>
<circle cx="459.5" cy="409.5"/>
<circle cx="373.5" cy="650.5"/>
<circle cx="598.5" cy="379.5"/>
<circle cx="473.5" cy="569.5"/>
<circle cx="558.5" cy="523.5"/>
<circle cx="614.5" cy="436.5"/>
<circle cx="284.5" cy="624.5"/>
<circle cx="690.5" cy="304.5"/>
<circle cx="274.5" cy="670.5"/>
<circle cx="355.5" cy="486.5"/>
<circle cx="558.5" cy="416.5"/>
<circle cx="691.5" cy="294.5"/>
<circle cx="278.5" cy="657.5"/>
<circle cx="366.5" cy="662.5"/>
<circle cx="447.5" cy="614.5"/>
<circle cx="337.5" cy="670.5"/>
<circle cx="336.5" cy="525.5"/>
<circle cx="281.5" cy="569.5"/>
<circle cx="632.5" cy="355.5"/>
<circle cx="585.5" cy="462.5"/>
<circle cx="541.5" cy="420.5"/>
<circle cx="318.5" cy="535.5"/>
<circle cx="388.5" cy="481.5"/>
<circle cx="308.5" cy="539.5"/>
<circle cx="573.5" cy="493.5"/>
<circle cx="340.5" cy="504.5"/>
<circle cx="416.5" cy="428.5"/>
<circle cx="505.5" cy="420.5"/>
<circle cx="424.5" cy="468.5"/>
<circle cx="368.5" cy="493.5"/>
<circle cx="665.5" cy="384.5"/>
<circle cx="710.5" cy="307.5"/>
<circle cx="382.5" cy="491.5"/>
<circle cx="373.5" cy="676.5"/>
<circle cx="454.5" cy="584.5"/>
<circle cx="441.5" cy="463.5"/>
<circle cx="309.5" cy="704.5"/>
<circle cx="281.5" cy="696.5"/>
<circle cx="601.5" cy="375.5"/>
<circle cx="333.5" cy="673.5"/>
<circle cx="493.5" cy="444.5"/>
<circle cx="710.5" cy="328.5"/>
<circle cx="422.5" cy="456.5"/>
<circle cx="686.5" cy="340.5"/>
<circle cx="372.5" cy="665.5"/>
<circle cx="369.5" cy="494.5"/>
<circle cx="290.5" cy="558.5"/>
<circle cx="373.5" cy="502.5"/>
<circle cx="292.5" cy="677.5"/>
<circle cx="606.5" cy="443.5"/>
<circle cx="443.5" cy="619.5"/>
<circle cx="364.5" cy="486.5"/>
<circle cx="718.5" cy="309.5"/>
<circle cx="652.5" cy="389.5"/>
<circle cx="719.5" cy="295.5"/>
<circle cx="390.5" cy="673.5"/>
<circle cx="269.5" cy="572.5"/>
<circle cx="652.5" cy="334.5"/>
<circle cx="421.5" cy="455.5"/>
<circle cx="357.5" cy="692.5"/>
<circle cx="315.5" cy="527.5"/>
<circle cx="353.5" cy="508.5"/>
<circle cx="355.5" cy="668.5"/>
<circle cx="539.5" cy="397.5"/>
<circle cx="525.5" cy="555.5"/>
<circle cx="552.5" cy="537.5"/>
<circle cx="454.5" cy="462.5"/>
<circle cx="573.5" cy="502.5"/>
<circle cx="399.5" cy="650.5"/>
<circle cx="352.5" cy="671.5"/>
<circle cx="531.5" cy="545.5"/>
<circle cx="487.5" cy="428.5"/>
<circle cx="623.5" cy="437.5"/>
<circle cx="684.5" cy="322.5"/>
<circle cx="592.5" cy="489.5"/>
<circle cx="287.5" cy="612.5"/>
<circle cx="280.5" cy="551.5"/>
<circle cx="594.5" cy="464.5"/>
<circle cx="556.5" cy="506.5"/>
<circle cx="501.5" cy="574.5"/>
<circle cx="434.5" cy="472.5"/>
<circle cx="444.5" cy="460.5"/>
<circle cx="275.5" cy="618.5"/>
<circle cx="330.5" cy="521.5"/>
<circle cx="589.5" cy="466.5"/>
<circle cx="481.5" cy="572.5"/>
<circle cx="552.5" cy="383.5"/>
<circle cx="613.5" cy="438.5"/>
<circle cx="271.5" cy="586.5"/>
<circle cx="594.5" cy="462.5"/>
<circle cx="291.5" cy="637.5"/>
<circle cx="537.5" cy="515.5"/>
<circle cx="642.5" cy="347.5"/>
<circle cx="715.5" cy="312.5"/>
<circle cx="674.5" cy="322.5"/>
<circle cx="427.5" cy="621.5"/>
<circle cx="373.5" cy="495.5"/>
<circle cx="452.5" cy="616.5"/>
<circle cx="662.5" cy="375.5"/>
<circle cx="423.5" cy="633.5"/>
<circle cx="323.5" cy="693.5"/>
<circle cx="564.5" cy="499.5"/>
<circle cx="563.5" cy="370.5"/>
<circle cx="290.5" cy="646.5"/>
<circle cx="370.5" cy="655.5"/>
<circle cx="320.5" cy="532.5"/>
<circle cx="509.5" cy="431.5"/>
<circle cx="585.5" cy="488.5"/>
<circle cx="673.5" cy="316.5"/>
<circle cx="421.5" cy="616.5"/>
<circle cx="343.5" cy="680.5"/>
<circle cx="479.5" cy="447.5"/>
<circle cx="454.5" cy="602.5"/>
<circle cx="444.5" cy="467.5"/>
<circle cx="414.5" cy="616.5"/>
<circle cx="665.5" cy="376.5"/>
<circle cx="281.5" cy="610.5"/>
<circle cx="437.5" cy="633.5"/>
<circle cx="442.5" cy="616.5"/>
<circle cx="466.5" cy="597.5"/>
<circle cx="275.5" cy="507.5"/>
<circle cx="308.5" cy="707.5"/>
<circle cx="364.5" cy="652.5"/>
<circle cx="599.5" cy="450.5"/>
<circle cx="606.5" cy="458.5"/>
<circle cx="631.5" cy="416.5"/>
<circle cx="312.5" cy="706.5"/>
<circle cx="332.5" cy="672.5"/>
<circle cx="448.5" cy="422.5"/>
<circle cx="291.5" cy="662.5"/>
<circle cx="424.5" cy="610.5"/>
<circle cx="420.5" cy="416.5"/>
<circle cx="579.5" cy="402.5"/>
<circle cx="320.5" cy="537.5"/>
<circle cx="529.5" cy="546.5"/>
<circle cx="596.5" cy="455.5"/>
<circle cx="529.5" cy="386.5"/>
<circle cx="393.5" cy="653.5"/>
<circle cx="275.5" cy="611.5"/>
<circle cx="366.5" cy="474.5"/>
<circle cx="542.5" cy="530.5"/>
<circle cx="470.5" cy="571.5"/>
<circle cx="592.5" cy="457.5"/>
<circle cx="270.5" cy="555.5"/>
<circle cx="369.5" cy="650.5"/>
<circle cx="555.5" cy="418.5"/>
<circle cx="315.5" cy="694.5"/>
<circle cx="362.5" cy="676.5"/>
<circle cx="604.5" cy="450.5"/>
<circle cx="598.5" cy="465.5"/>
<circle cx="289.5" cy="643.5"/>
<circle cx="403.5" cy="628.5"/>
<circle cx="494.5" cy="570.5"/>
<circle cx="350.5" cy="476.5"/>
<circle cx="682.5" cy="352.5"/>
<circle cx="251.5" cy="688.5"/>
<circle cx="457.5" cy="599.5"/>
<circle cx="276.5" cy="594.5"/>
<circle cx="653.5" cy="432.5"/>
<circle cx="649.5" cy="346.5"/>
<circle cx="284.5" cy="645.5"/>
<circle cx="346.5" cy="716.5"/>
<circle cx="676.5" cy="347.5"/>
<circle cx="536.5" cy="515.5"/>
<circle cx="610.5" cy="372.5"/>
<circle cx="641.5" cy="404.5"/>
<circle cx="332.5" cy="519.5"/>
<circle cx="584.5" cy="375.5"/>
<circle cx="463.5" cy="430.5"/>
<circle cx="562.5" cy="413.5"/>
<circle cx="628.5" cy="333.5"/>
<circle cx="555.5" cy="506.5"/>
<circle cx="457.5" cy="581.5"/>
<circle cx="299.5" cy="545.5"/>
<circle cx="319.5" cy="677.5"/>
<circle cx="457.5" cy="588.5"/>
<circle cx="307.5" cy="523.5"/>
<circle cx="481.5" cy="444.5"/>
<circle cx="491.5" cy="446.5"/>
<circle cx="403.5" cy="482.5"/>
<circle cx="640.5" cy="417.5"/>
<circle cx="580.5" cy="484.5"/>
<circle cx="677.5" cy="353.5"/>
<circle cx="257.5" cy="541.5"/>
<circle cx="653.5" cy="424.5"/>
<circle cx="692.5" cy="306.5"/>
<circle cx="512.5" cy="431.5"/>
<circle cx="609.5" cy="448.5"/>
<circle cx="642.5" cy="403.5"/>
<circle cx="464.5" cy="458.5"/>
<circle cx="269.5" cy="613.5"/>
<circle cx="357.5" cy="696.5"/>
<circle cx="583.5" cy="392.5"/>
<circle cx="461.5" cy="453.5"/>
<circle cx="744.5" cy="273.5"/>
<circle cx="593.5" cy="470.5"/>
<circle cx="324.5" cy="678.5"/>
<circle cx="476.5" cy="450.5"/>
<circle cx="622.5" cy="459.5"/>
<circle cx="285.5" cy="639.5"/>
<circle cx="293.5" cy="662.5"/>
<circle cx="501.5" cy="409.5"/>
<circle cx="529.5" cy="525.5"/>
<circle cx="272.5" cy="642.5"/>
<circle cx="325.5" cy="473.5"/>
<circle cx="275.5" cy="664.5"/>
<circle cx="366.5" cy="492.5"/>
<circle cx="596.5" cy="461.5"/>
<circle cx="296.5" cy="556.5"/>
<circle cx="466.5" cy="434.5"/>
<circle cx="646.5" cy="402.5"/>
<circle cx="406.5" cy="466.5"/>
<circle cx="447.5" cy="585.5"/>
<circle cx="574.5" cy="483.5"/>
<circle cx="547.5" cy="515.5"/>
<circle cx="484.5" cy="443.5"/>
<circle cx="483.5" cy="558.5"/>
<circle cx="691.5" cy="351.5"/>
<circle cx="294.5" cy="538.5"/>
<circle cx="287.5" cy="644.5"/>
<circle cx="694.5" cy="329.5"/>
<circle cx="364.5" cy="493.5"/>
<circle cx="523.5" cy="427.5"/>
<circle cx="260.5" cy="575.5"/>
<circle cx="392.5" cy="632.5"/>
<circle cx="279.5" cy="645.5"/>
<circle cx="286.5" cy="562.5"/>
<circle cx="403.5" cy="479.5"/>
<circle cx="744.5" cy="272.5"/>
<circle cx="561.5" cy="500.5"/>
<circle cx="395.5" cy="641.5"/>
<circle cx="320.5" cy="535.5"/>
<circle cx="459.5" cy="456.5"/>
<circle cx="545.5" cy="356.5"/>
<circle cx="399.5" cy="437.5"/>
<circle cx="712.5" cy="302.5"/>
<circle cx="465.5" cy="619.5"/>
<circle cx="272.5" cy="589.5"/>
<circle cx="276.5" cy="600.5"/>
<circle cx="475.5" cy="569.5"/>
<circle cx="415.5" cy="464.5"/>
<circle cx="480.5" cy="387.5"/>
<circle cx="308.5" cy="514.5"/>
<circle cx="294.5" cy="710.5"/>
<circle cx="603.5" cy="351.5"/>
<circle cx="547.5" cy="511.5"/>
<circle cx="452.5" cy="586.5"/>
<circle cx="427.5" cy="613.5"/>
<circle cx="639.5" cy="354.5"/>
<circle cx="590.5" cy="469.5"/>
<circle cx="549.5" cy="523.5"/>
<circle cx="660.5" cy="400.5"/>
<circle cx="348.5" cy="664.5"/>
<circle cx="383.5" cy="639.5"/>
<circle cx="581.5" cy="395.5"/>
<circle cx="271.5" cy="563.5"/>
<circle cx="629.5" cy="421.5"/>
<circle cx="663.5" cy="326.5"/>
<circle cx="577.5" cy="475.5"/>
<circle cx="296.5" cy="684.5"/>
<circle cx="333.5" cy="678.5"/>
<circle cx="522.5" cy="527.5"/>
<circle cx="311.5" cy="537.5"/>
<circle cx="480.5" cy="407.5"/>
<circle cx="509.5" cy="437.5"/>
<circle cx="351.5" cy="507.5"/>
<circle cx="341.5" cy="731.5"/>
<circle cx="683.5" cy="329.5"/>
<circle cx="470.5" cy="573.5"/>
<circle cx="586.5" cy="460.5"/>
<circle cx="356.5" cy="663.5"/>
<circle cx="515.5" cy="530.5"/>
<circle cx="557.5" cy="501.5"/>
<circle cx="268.5" cy="587.5"/>
<circle cx="529.5" cy="530.5"/>
<circle cx="509.5" cy="556.5"/>
<circle cx="588.5" cy="395.5"/>
<circle cx="505.5" cy="550.5"/>
<circle cx="272.5" cy="580.5"/>
<circle cx="595.5" cy="457.5"/>
<circle cx="716.5" cy="326.5"/>
<circle cx="553.5" cy="538.5"/>
<circle cx="620.5" cy="428.5"/>
<circle cx="624.5" cy="419.5"/>
<circle cx="277.5" cy="592.5"/>
<circle cx="381.5" cy="473.5"/>
<circle cx="263.5" cy="567.5"/>
<circle cx="529.5" cy="390.5"/>
<circle cx="342.5" cy="505.5"/>
<circle cx="276.5" cy="651.5"/>
<circle cx="689.5" cy="340.5"/>
<circle cx="597.5" cy="451.5"/>
<circle cx="703.5" cy="315.5"/>
<circle cx="588.5" cy="465.5"/>
<circle cx="409.5" cy="454.5"/>
<circle cx="649.5" cy="397.5"/>
<circle cx="409.5" cy="464.5"/>
<circle cx="283.5" cy="567.5"/>
<circle cx="256.5" cy="661.5"/>
<circle cx="267.5" cy="550.5"/>
<circle cx="318.5" cy="676.5"/>
<circle cx="423.5" cy="448.5"/>
<circle cx="575.5" cy="406.5"/>
<circle cx="531.5" cy="406.5"/>
<circle cx="684.5" cy="318.5"/>
<circle cx="693.5" cy="314.5"/>
<circle cx="673.5" cy="353.5"/>
<circle cx="365.5" cy="502.5"/>
<circle cx="634.5" cy="418.5"/>
<circle cx="543.5" cy="514.5"/>
<circle cx="574.5" cy="501.5"/>
<circle cx="716.5" cy="310.5"/>
<circle cx="447.5" cy="465.5"/>
<circle cx="636.5" cy="444.5"/>
<circle cx="349.5" cy="666.5"/>
<circle cx="680.5" cy="383.5"/>
<circle cx="291.5" cy="557.5"/>
<circle cx="508.5" cy="553.5"/>
<circle cx="625.5" cy="428.5"/>
<circle cx="593.5" cy="456.5"/>
<circle cx="315.5" cy="528.5"/>
<circle cx="578.5" cy="493.5"/>
<circle cx="548.5" cy="360.5"/>
<circle cx="424.5" cy="604.5"/>
<circle cx="370.5" cy="654.5"/>
<circle cx="564.5" cy="500.5"/>
<circle cx="466.5" cy="451.5"/>
<circle cx="593.5" cy="383.5"/>
<circle cx="267.5" cy="696.5"/>
<circle cx="575.5" cy="533.5"/>
<circle cx="328.5" cy="525.5"/>
<circle cx="417.5" cy="479.5"/>
<circle cx="362.5" cy="473.5"/>
<circle cx="302.5" cy="680.5"/>
<circle cx="408.5" cy="635.5"/>
<circle cx="534.5" cy="547.5"/>
<circle cx="313.5" cy="679.5"/>
<circle cx="718.5" cy="323.5"/>
<circle cx="692.5" cy="357.5"/>
<circle cx="666.5" cy="367.5"/>
<circle cx="584.5" cy="468.5"/>
<circle cx="487.5" cy="413.5"/>
<circle cx="553.5" cy="506.5"/>
<circle cx="696.5" cy="332.5"/>
<circle cx="277.5" cy="700.5"/>
<circle cx="664.5" cy="382.5"/>
<circle cx="355.5" cy="509.5"/>
<circle cx="670.5" cy="319.5"/>
<circle cx="622.5" cy="445.5"/>
<circle cx="549.5" cy="365.5"/>
<circle cx="377.5" cy="653.5"/>
<circle cx="687.5" cy="319.5"/>
<circle cx="288.5" cy="662.5"/>
<circle cx="599.5" cy="452.5"/>
<circle cx="411.5" cy="633.5"/>
<circle cx="435.5" cy="599.5"/>
<circle cx="420.5" cy="476.5"/>
<circle cx="477.5" cy="419.5"/>
<circle cx="328.5" cy="676.5"/>
<circle cx="680.5" cy="332.5"/>
<circle cx="405.5" cy="482.5"/>
<circle cx="286.5" cy="630.5"/>
<circle cx="329.5" cy="682.5"/>
<circle cx="281.5" cy="551.5"/>
<circle cx="415.5" cy="477.5"/>
<circle cx="288.5" cy="587.5"/>
<circle cx="744.5" cy="262.5"/>
<circle cx="457.5" cy="602.5"/>
<circle cx="465.5" cy="422.5"/>
<circle cx="664.5" cy="374.5"/>
<circle cx="672.5" cy="375.5"/>
<circle cx="710.5" cy="303.5"/>
<circle cx="321.5" cy="502.5"/>
<circle cx="592.5" cy="475.5"/>
<circle cx="312.5" cy="531.5"/>
<circle cx="584.5" cy="371.5"/>
<circle cx="716.5" cy="291.5"/>
<circle cx="262.5" cy="549.5"/>
<circle cx="377.5" cy="670.5"/>
<circle cx="621.5" cy="446.5"/>
<circle cx="266.5" cy="709.5"/>
<circle cx="264.5" cy="696.5"/>
<circle cx="274.5" cy="695.5"/>
<circle cx="251.5" cy="707.5"/>
<circle cx="254.5" cy="705.5"/>
<circle cx="262.5" cy="708.5"/>
<circle cx="268.5" cy="725.5"/>
<circle cx="256.5" cy="708.5"/>
<circle cx="280.5" cy="721.5"/>
<circle cx="269.5" cy="703.5"/>
<circle cx="251.5" cy="697.5"/>
<circle cx="271.5" cy="690.5"/>
<circle cx="272.5" cy="714.5"/>
<circle cx="256.5" cy="689.5"/>
<circle cx="256.5" cy="688.5"/>
<circle cx="280.5" cy="693.5"/>
<circle cx="280.5" cy="697.5"/>
<circle cx="270.5" cy="705.5"/>
<circle cx="254.5" cy="696.5"/>
<circle cx="262.5" cy="702.5"/>
<circle cx="282.5" cy="703.5"/>
<circle cx="277.5" cy="705.5"/>
<circle cx="286.5" cy="704.5"/>
<circle cx="252.5" cy="710.5"/>
<circle cx="251.5" cy="702.5"/>
<circle cx="254.5" cy="711.5"/>
<circle cx="271.5" cy="705.5"/>
<circle cx="275.5" cy="721.5"/>
<circle cx="257.5" cy="699.5"/>
<circle cx="275.5" cy="711.5"/>
<circle cx="282.5" cy="712.5"/>
<circle cx="272.5" cy="708.5"/>
<circle cx="261.5" cy="713.5"/>
<circle cx="258.5" cy="719.5"/>
<circle cx="258.5" cy="715.5"/>
<circle cx="270.5" cy="694.5"/>
<circle cx="266.5" cy="698.5"/>
<circle cx="263.5" cy="697.5"/>
<circle cx="606.5" cy="497.5"/>
<circle cx="626.5" cy="466.5"/>
<circle cx="615.5" cy="478.5"/>
<circle cx="612.5" cy="462.5"/>
<circle cx="617.5" cy="465.5"/>
<circle cx="636.5" cy="486.5"/>
<circle cx="626.5" cy="475.5"/>
<circle cx="610.5" cy="487.5"/>
<circle cx="627.5" cy="459.5"/>
<circle cx="617.5" cy="494.5"/>
<circle cx="604.5" cy="480.5"/>
<circle cx="630.5" cy="458.5"/>
<circle cx="606.5" cy="486.5"/>
<circle cx="609.5" cy="484.5"/>
<circle cx="629.5" cy="476.5"/>
<circle cx="601.5" cy="495.5"/>
<circle cx="617.5" cy="472.5"/>
<circle cx="625.5" cy="479.5"/>
<circle cx="632.5" cy="481.5"/>
<circle cx="631.5" cy="480.5"/>
<circle cx="605.5" cy="492.5"/>
<circle cx="600.5" cy="491.5"/>
<circle cx="603.5" cy="497.5"/>
<circle cx="614.5" cy="497.5"/>
<circle cx="612.5" cy="477.5"/>
<circle cx="602.5" cy="471.5"/>
<circle cx="600.5" cy="471.5"/>
<circle cx="612.5" cy="482.5"/>
<circle cx="632.5" cy="467.5"/>
<circle cx="633.5" cy="463.5"/>
<circle cx="615.5" cy="492.5"/>
<circle cx="628.5" cy="467.5"/>
<circle cx="630.5" cy="466.5"/>
<circle cx="608.5" cy="484.5"/>
<circle cx="754.5" cy="242.5"/>
<circle cx="776.5" cy="239.5"/>
<circle cx="753.5" cy="246.5"/>
<circle cx="755.5" cy="264.5"/>
<circle cx="771.5" cy="234.5"/>
<circle cx="762.5" cy="241.5"/>
<circle cx="768.5" cy="247.5"/>
<circle cx="758.5" cy="256.5"/>
<circle cx="769.5" cy="258.5"/>
<circle cx="747.5" cy="264.5"/>
<circle cx="744.5" cy="259.5"/>
<circle cx="752.5" cy="262.5"/>
<circle cx="746.5" cy="257.5"/>
<circle cx="767.5" cy="236.5"/>
<circle cx="770.5" cy="250.5"/>
<circle cx="767.5" cy="246.5"/>
<circle cx="769.5" cy="256.5"/>
<circle cx="742.5" cy="260.5"/>
<circle cx="772.5" cy="238.5"/>
<circle cx="762.5" cy="259.5"/>
<circle cx="761.5" cy="257.5"/>
<circle cx="771.5" cy="243.5"/>
<circle cx="772.5" cy="253.5"/>
<circle cx="749.5" cy="249.5"/>
<circle cx="753.5" cy="248.5"/>
<circle cx="774.5" cy="237.5"/>
<circle cx="760.5" cy="241.5"/>
<circle cx="756.5" cy="240.5"/>
<circle cx="766.5" cy="245.5"/>
<circle cx="752.5" cy="253.5"/>
<circle cx="753.5" cy="272.5"/>
<circle cx="743.5" cy="259.5"/>
<circle cx="204.5" cy="658.5"/>
<circle cx="201.5" cy="670.5"/>
<circle cx="204.5" cy="684.5"/>
<circle cx="204.5" cy="693.5"/>
<circle cx="206.5" cy="707.5"/>
<circle cx="218.5" cy="705.5"/>
<circle cx="153.5" cy="722.5"/>
<circle cx="154.5" cy="733.5"/>
<circle cx="153.5" cy="756.5"/>
<circle cx="189.5" cy="753.5"/>
<circle cx="212.5" cy="758.5"/>
<circle cx="210.5" cy="782.5"/>
<circle cx="167.5" cy="790.5"/>
<circle cx="158.5" cy="797.5"/>
<circle cx="234.5" cy="820.5"/>
<circle cx="238.5" cy="756.5"/>
<circle cx="256.5" cy="787.5"/>
<circle cx="262.5" cy="782.5"/>
<circle cx="282.5" cy="776.5"/>
<circle cx="289.5" cy="758.5"/>
<circle cx="235.5" cy="655.5"/>
<circle cx="238.5" cy="672.5"/>
<circle cx="233.5" cy="713.5"/>
<circle cx="241.5" cy="724.5"/>
<circle cx="245.5" cy="735.5"/>
<circle cx="246.5" cy="748.5"/>
<circle cx="251.5" cy="745.5"/>
<circle cx="254.5" cy="742.5"/>
<circle cx="258.5" cy="738.5"/>
<circle cx="240.5" cy="707.5"/>
<circle cx="244.5" cy="702.5"/>
<circle cx="248.5" cy="699.5"/>
<circle cx="249.5" cy="715.5"/>
<circle cx="283.5" cy="747.5"/>
<circle cx="291.5" cy="738.5"/>
<circle cx="275.5" cy="739.5"/>
<circle cx="302.5" cy="745.5"/>
<circle cx="307.5" cy="741.5"/>
<circle cx="307.5" cy="724.5"/>
<circle cx="316.5" cy="741.5"/>
<circle cx="268.5" cy="729.5"/>
<circle cx="272.5" cy="732.5"/>
<circle cx="252.5" cy="683.5"/>
<circle cx="251.5" cy="673.5"/>
<circle cx="254.5" cy="690.5"/>
<circle cx="300.5" cy="713.5"/>
<circle cx="316.5" cy="728.5"/>
<circle cx="478.5" cy="782.5"/>
<circle cx="404.5" cy="738.5"/>
<circle cx="387.5" cy="728.5"/>
<circle cx="365.5" cy="736.5"/>
<circle cx="358.5" cy="738.5"/>
<circle cx="346.5" cy="737.5"/>
<circle cx="335.5" cy="738.5"/>
<circle cx="324.5" cy="738.5"/>
<circle cx="411.5" cy="699.5"/>
<circle cx="453.5" cy="714.5"/>
<circle cx="461.5" cy="707.5"/>
<circle cx="460.5" cy="686.5"/>
<circle cx="444.5" cy="679.5"/>
<circle cx="424.5" cy="678.5"/>
<circle cx="415.5" cy="672.5"/>
<circle cx="421.5" cy="665.5"/>
<circle cx="459.5" cy="659.5"/>
<circle cx="472.5" cy="659.5"/>
<circle cx="496.5" cy="655.5"/>
<circle cx="519.5" cy="673.5"/>
<circle cx="480.5" cy="651.5"/>
<circle cx="446.5" cy="654.5"/>
<circle cx="433.5" cy="652.5"/>
<circle cx="361.5" cy="692.5"/>
<circle cx="375.5" cy="701.5"/>
<circle cx="357.5" cy="709.5"/>
<circle cx="370.5" cy="709.5"/>
<circle cx="394.5" cy="715.5"/>
<circle cx="382.5" cy="719.5"/>
<circle cx="367.5" cy="718.5"/>
<circle cx="357.5" cy="719.5"/>
<circle cx="348.5" cy="718.5"/>
<circle cx="337.5" cy="728.5"/>
<circle cx="328.5" cy="724.5"/>
<circle cx="374.5" cy="682.5"/>
<circle cx="390.5" cy="681.5"/>
<circle cx="396.5" cy="668.5"/>
<circle cx="412.5" cy="659.5"/>
<circle cx="386.5" cy="714.5"/>
<circle cx="374.5" cy="708.5"/>
<circle cx="340.5" cy="710.5"/>
<circle cx="332.5" cy="716.5"/>
<circle cx="562.5" cy="719.5"/>
<circle cx="544.5" cy="768.5"/>
<circle cx="547.5" cy="765.5"/>
<circle cx="227.5" cy="586.5"/>
<circle cx="234.5" cy="605.5"/>
<circle cx="221.5" cy="639.5"/>
<circle cx="219.5" cy="627.5"/>
<circle cx="208.5" cy="621.5"/>
<circle cx="204.5" cy="622.5"/>
<circle cx="211.5" cy="620.5"/>
<circle cx="229.5" cy="619.5"/>
<circle cx="238.5" cy="615.5"/>
<circle cx="236.5" cy="629.5"/>
<circle cx="240.5" cy="633.5"/>
<circle cx="244.5" cy="622.5"/>
<circle cx="250.5" cy="599.5"/>
<circle cx="243.5" cy="580.5"/>
<circle cx="242.5" cy="576.5"/>
<circle cx="245.5" cy="570.5"/>
<circle cx="248.5" cy="567.5"/>
<circle cx="258.5" cy="555.5"/>
<circle cx="250.5" cy="540.5"/>
<circle cx="258.5" cy="528.5"/>
<circle cx="258.5" cy="515.5"/>
<circle cx="271.5" cy="521.5"/>
<circle cx="278.5" cy="522.5"/>
<circle cx="264.5" cy="486.5"/>
<circle cx="268.5" cy="484.5"/>
<circle cx="274.5" cy="489.5"/>
<circle cx="281.5" cy="492.5"/>
<circle cx="275.5" cy="503.5"/>
<circle cx="285.5" cy="502.5"/>
<circle cx="289.5" cy="515.5"/>
<circle cx="296.5" cy="505.5"/>
<circle cx="293.5" cy="487.5"/>
<circle cx="301.5" cy="476.5"/>
<circle cx="313.5" cy="465.5"/>
<circle cx="317.5" cy="474.5"/>
<circle cx="309.5" cy="482.5"/>
<circle cx="320.5" cy="458.5"/>
<circle cx="308.5" cy="495.5"/>
<circle cx="691.5" cy="456.5"/>
<circle cx="693.5" cy="482.5"/>
<circle cx="663.5" cy="484.5"/>
<circle cx="653.5" cy="494.5"/>
<circle cx="668.5" cy="503.5"/>
<circle cx="676.5" cy="509.5"/>
<circle cx="668.5" cy="516.5"/>
<circle cx="636.5" cy="509.5"/>
<circle cx="646.5" cy="478.5"/>
<circle cx="632.5" cy="493.5"/>
<circle cx="637.5" cy="483.5"/>
<circle cx="640.5" cy="471.5"/>
<circle cx="644.5" cy="454.5"/>
<circle cx="654.5" cy="451.5"/>
<circle cx="666.5" cy="456.5"/>
<circle cx="674.5" cy="452.5"/>
<circle cx="600.5" cy="523.5"/>
<circle cx="609.5" cy="527.5"/>
<circle cx="583.5" cy="525.5"/>
<circle cx="578.5" cy="536.5"/>
<circle cx="575.5" cy="544.5"/>
<circle cx="568.5" cy="551.5"/>
<circle cx="553.5" cy="548.5"/>
<circle cx="565.5" cy="538.5"/>
<circle cx="589.5" cy="576.5"/>
<circle cx="578.5" cy="575.5"/>
<circle cx="565.5" cy="572.5"/>
<circle cx="569.5" cy="573.5"/>
<circle cx="571.5" cy="580.5"/>
<circle cx="551.5" cy="578.5"/>
<circle cx="550.5" cy="591.5"/>
<circle cx="567.5" cy="597.5"/>
<circle cx="559.5" cy="605.5"/>
<circle cx="565.5" cy="623.5"/>
<circle cx="528.5" cy="635.5"/>
<circle cx="525.5" cy="607.5"/>
<circle cx="537.5" cy="596.5"/>
<circle cx="531.5" cy="576.5"/>
<circle cx="532.5" cy="568.5"/>
<circle cx="536.5" cy="556.5"/>
<circle cx="528.5" cy="590.5"/>
<circle cx="522.5" cy="586.5"/>
<circle cx="534.5" cy="589.5"/>
<circle cx="612.5" cy="502.5"/>
<circle cx="611.5" cy="478.5"/>
<circle cx="624.5" cy="474.5"/>
<circle cx="632.5" cy="462.5"/>
<circle cx="636.5" cy="459.5"/>
<circle cx="659.5" cy="435.5"/>
<circle cx="680.5" cy="444.5"/>
<circle cx="681.5" cy="438.5"/>
<circle cx="678.5" cy="434.5"/>
<circle cx="676.5" cy="439.5"/>
<circle cx="682.5" cy="423.5"/>
<circle cx="686.5" cy="420.5"/>
<circle cx="691.5" cy="416.5"/>
<circle cx="699.5" cy="421.5"/>
<circle cx="697.5" cy="412.5"/>
<circle cx="700.5" cy="409.5"/>
<circle cx="725.5" cy="405.5"/>
<circle cx="731.5" cy="399.5"/>
<circle cx="719.5" cy="392.5"/>
<circle cx="713.5" cy="393.5"/>
<circle cx="704.5" cy="393.5"/>
<circle cx="691.5" cy="393.5"/>
<circle cx="681.5" cy="388.5"/>
<circle cx="672.5" cy="395.5"/>
<circle cx="663.5" cy="409.5"/>
<circle cx="650.5" cy="423.5"/>
<circle cx="640.5" cy="437.5"/>
<circle cx="729.5" cy="379.5"/>
<circle cx="721.5" cy="374.5"/>
<circle cx="734.5" cy="364.5"/>
<circle cx="725.5" cy="367.5"/>
<circle cx="713.5" cy="363.5"/>
<circle cx="709.5" cy="374.5"/>
<circle cx="699.5" cy="385.5"/>
<circle cx="731.5" cy="350.5"/>
<circle cx="722.5" cy="350.5"/>
<circle cx="880.5" cy="150.5"/>
<circle cx="858.5" cy="168.5"/>
<circle cx="843.5" cy="188.5"/>
<circle cx="805.5" cy="191.5"/>
<circle cx="902.5" cy="219.5"/>
<circle cx="906.5" cy="228.5"/>
<circle cx="810.5" cy="207.5"/>
<circle cx="820.5" cy="208.5"/>
<circle cx="814.5" cy="212.5"/>
<circle cx="808.5" cy="220.5"/>
<circle cx="818.5" cy="218.5"/>
<circle cx="821.5" cy="223.5"/>
<circle cx="796.5" cy="225.5"/>
<circle cx="789.5" cy="228.5"/>
<circle cx="782.5" cy="235.5"/>
<circle cx="774.5" cy="241.5"/>
<circle cx="800.5" cy="233.5"/>
<circle cx="803.5" cy="241.5"/>
<circle cx="788.5" cy="244.5"/>
<circle cx="800.5" cy="251.5"/>
<circle cx="792.5" cy="257.5"/>
<circle cx="786.5" cy="252.5"/>
<circle cx="759.5" cy="227.5"/>
<circle cx="739.5" cy="231.5"/>
<circle cx="748.5" cy="238.5"/>
<circle cx="758.5" cy="234.5"/>
<circle cx="735.5" cy="252.5"/>
<circle cx="747.5" cy="249.5"/>
<circle cx="760.5" cy="244.5"/>
<circle cx="763.5" cy="238.5"/>
<circle cx="780.5" cy="262.5"/>
<circle cx="781.5" cy="268.5"/>
<circle cx="772.5" cy="270.5"/>
<circle cx="776.5" cy="272.5"/>
<circle cx="768.5" cy="262.5"/>
<circle cx="790.5" cy="285.5"/>
<circle cx="773.5" cy="290.5"/>
<circle cx="767.5" cy="296.5"/>
<circle cx="758.5" cy="293.5"/>
<circle cx="755.5" cy="283.5"/>
<circle cx="787.5" cy="301.5"/>
<circle cx="778.5" cy="309.5"/>
<circle cx="744.5" cy="301.5"/>
<circle cx="747.5" cy="294.5"/>
<circle cx="737.5" cy="317.5"/>
<circle cx="740.5" cy="321.5"/>
<circle cx="746.5" cy="331.5"/>
<circle cx="744.5" cy="339.5"/>
<circle cx="728.5" cy="336.5"/>
<circle cx="738.5" cy="334.5"/>
<circle cx="724.5" cy="345.5"/>
<circle cx="757.5" cy="274.5"/>
<circle cx="724.5" cy="316.5"/>
<circle cx="720.5" cy="276.5"/>
<circle cx="735.5" cy="269.5"/>
<circle cx="745.5" cy="261.5"/>
<circle cx="750.5" cy="256.5"/>
<circle cx="627.5" cy="247.5"/>
<circle cx="560.5" cy="269.5"/>
<circle cx="540.5" cy="288.5"/>
<circle cx="520.5" cy="302.5"/>
<circle cx="611.5" cy="301.5"/>
<circle cx="591.5" cy="318.5"/>
<circle cx="546.5" cy="310.5"/>
<circle cx="558.5" cy="314.5"/>
<circle cx="535.5" cy="320.5"/>
<circle cx="547.5" cy="322.5"/>
<circle cx="542.5" cy="331.5"/>
<circle cx="552.5" cy="336.5"/>
<circle cx="531.5" cy="335.5"/>
<circle cx="536.5" cy="336.5"/>
<circle cx="568.5" cy="326.5"/>
<circle cx="577.5" cy="325.5"/>
<circle cx="565.5" cy="339.5"/>
<circle cx="576.5" cy="336.5"/>
<circle cx="578.5" cy="343.5"/>
<circle cx="524.5" cy="347.5"/>
<circle cx="588.5" cy="350.5"/>
<circle cx="625.5" cy="316.5"/>
<circle cx="625.5" cy="319.5"/>
<circle cx="649.5" cy="301.5"/>
<circle cx="657.5" cy="288.5"/>
<circle cx="670.5" cy="276.5"/>
<circle cx="664.5" cy="304.5"/>
<circle cx="686.5" cy="279.5"/>
<circle cx="694.5" cy="276.5"/>
<circle cx="706.5" cy="277.5"/>
<circle cx="689.5" cy="289.5"/>
<circle cx="679.5" cy="296.5"/>
<circle cx="675.5" cy="305.5"/>
<circle cx="645.5" cy="321.5"/>
<circle cx="629.5" cy="331.5"/>
<circle cx="610.5" cy="335.5"/>
<circle cx="602.5" cy="342.5"/>
<circle cx="620.5" cy="331.5"/>
<circle cx="654.5" cy="314.5"/>
<circle cx="333.5" cy="356.5"/>
<circle cx="333.5" cy="441.5"/>
<circle cx="517.5" cy="302.5"/>
<circle cx="453.5" cy="323.5"/>
<circle cx="473.5" cy="327.5"/>
<circle cx="479.5" cy="335.5"/>
<circle cx="491.5" cy="328.5"/>
<circle cx="499.5" cy="319.5"/>
<circle cx="511.5" cy="324.5"/>
<circle cx="494.5" cy="340.5"/>
<circle cx="469.5" cy="349.5"/>
<circle cx="480.5" cy="349.5"/>
<circle cx="496.5" cy="351.5"/>
<circle cx="502.5" cy="351.5"/>
<circle cx="511.5" cy="340.5"/>
<circle cx="512.5" cy="344.5"/>
<circle cx="518.5" cy="358.5"/>
<circle cx="439.5" cy="371.5"/>
<circle cx="447.5" cy="378.5"/>
<circle cx="458.5" cy="371.5"/>
<circle cx="453.5" cy="385.5"/>
<circle cx="465.5" cy="381.5"/>
<circle cx="473.5" cy="378.5"/>
<circle cx="482.5" cy="371.5"/>
<circle cx="486.5" cy="376.5"/>
<circle cx="506.5" cy="364.5"/>
<circle cx="408.5" cy="384.5"/>
<circle cx="394.5" cy="390.5"/>
<circle cx="381.5" cy="397.5"/>
<circle cx="411.5" cy="398.5"/>
<circle cx="411.5" cy="402.5"/>
<circle cx="364.5" cy="414.5"/>
<circle cx="370.5" cy="417.5"/>
<circle cx="393.5" cy="427.5"/>
<circle cx="393.5" cy="429.5"/>
<circle cx="379.5" cy="441.5"/>
<circle cx="357.5" cy="450.5"/>
<circle cx="366.5" cy="448.5"/>
<circle cx="430.5" cy="404.5"/>
<circle cx="425.5" cy="410.5"/>
<circle cx="426.5" cy="417.5"/>
<circle cx="428.5" cy="422.5"/>
<circle cx="443.5" cy="407.5"/>
<circle cx="451.5" cy="401.5"/>
<circle cx="413.5" cy="432.5"/>
<circle cx="420.5" cy="438.5"/>
<circle cx="400.5" cy="442.5"/>
<circle cx="476.5" cy="390.5"/>
<circle cx="463.5" cy="398.5"/>
<circle cx="498.5" cy="374.5"/>
<circle cx="264.5" cy="428.5"/>
<circle cx="416.5" cy="444.5"/>
<circle cx="390.5" cy="446.5"/>
<circle cx="322.5" cy="454.5"/>
<circle cx="324.5" cy="466.5"/>
<circle cx="342.5" cy="464.5"/>
<circle cx="336.5" cy="472.5"/>
<circle cx="360.5" cy="462.5"/>
<circle cx="362.5" cy="468.5"/>
<circle cx="376.5" cy="460.5"/>
<circle cx="352.5" cy="474.5"/>
<circle cx="297.5" cy="486.5"/>
<circle cx="324.5" cy="482.5"/>
<circle cx="258.5" cy="542.5"/>
<circle cx="263.5" cy="533.5"/>
<circle cx="270.5" cy="534.5"/>
<circle cx="276.5" cy="540.5"/>
<circle cx="260.5" cy="550.5"/>
<circle cx="572.5" cy="344.5"/>
<circle cx="670.5" cy="280.5"/>
<circle cx="686.5" cy="282.5"/>
<circle cx="524.5" cy="372.5"/>
<circle cx="503.5" cy="398.5"/>
<circle cx="549.5" cy="355.5"/>
<circle cx="564.5" cy="351.5"/>
<circle cx="538.5" cy="364.5"/>
<circle cx="556.5" cy="360.5"/>
<circle cx="576.5" cy="360.5"/>
<circle cx="590.5" cy="356.5"/>
<circle cx="604.5" cy="338.5"/>
<circle cx="612.5" cy="332.5"/>
<circle cx="642.5" cy="332.5"/>
<circle cx="690.5" cy="376.5"/>
<circle cx="686.5" cy="368.5"/>
<circle cx="696.5" cy="360.5"/>
<circle cx="664.5" cy="480.5"/>
<circle cx="499.5" cy="609.5"/>
<circle cx="499.5" cy="615.5"/>
<circle cx="487.5" cy="621.5"/>
<circle cx="511.5" cy="640.5"/>
<circle cx="515.5" cy="640.5"/>
<circle cx="412.5" cy="672.5"/>
<circle cx="478.5" cy="615.5"/>
<circle cx="469.5" cy="624.5"/>
<circle cx="454.5" cy="630.5"/>
<circle cx="445.5" cy="645.5"/>
<circle cx="436.5" cy="645.5"/>
<circle cx="244.5" cy="655.5"/>
<circle cx="257.5" cy="562.5"/>
<circle cx="256.5" cy="565.5"/>
<circle cx="257.5" cy="567.5"/>
<circle cx="257.5" cy="569.5"/>
<circle cx="256.5" cy="570.5"/>
<circle cx="257.5" cy="572.5"/>
<circle cx="256.5" cy="574.5"/>
<circle cx="257.5" cy="577.5"/>
<circle cx="256.5" cy="580.5"/>
<circle cx="256.5" cy="583.5"/>
<circle cx="257.5" cy="585.5"/>
<circle cx="256.5" cy="588.5"/>
<circle cx="257.5" cy="590.5"/>
<circle cx="257.5" cy="593.5"/>
<circle cx="256.5" cy="595.5"/>
<circle cx="256.5" cy="597.5"/>
<circle cx="257.5" cy="599.5"/>
<circle cx="258.5" cy="601.5"/>
<circle cx="257.5" cy="604.5"/>
<circle cx="256.5" cy="605.5"/>
<circle cx="257.5" cy="607.5"/>
<circle cx="257.5" cy="611.5"/>
<circle cx="257.5" cy="613.5"/>
<circle cx="256.5" cy="617.5"/>
<circle cx="257.5" cy="619.5"/>
<circle cx="256.5" cy="620.5"/>
<circle cx="256.5" cy="622.5"/>
<circle cx="257.5" cy="626.5"/>
<circle cx="257.5" cy="628.5"/>
<circle cx="257.5" cy="630.5"/>
<circle cx="257.5" cy="631.5"/>
<circle cx="256.5" cy="635.5"/>
<circle cx="257.5" cy="637.5"/>
<circle cx="257.5" cy="639.5"/>
<circle cx="257.5" cy="641.5"/>
<circle cx="257.5" cy="643.5"/>
<circle cx="256.5" cy="645.5"/>
<circle cx="256.5" cy="647.5"/>
<circle cx="257.5" cy="650.5"/>
<circle cx="257.5" cy="651.5"/>
<circle cx="256.5" cy="654.5"/>
<circle cx="257.5" cy="656.5"/>
<circle cx="257.5" cy="659.5"/>
<circle cx="256.5" cy="660.5"/>
<circle cx="257.5" cy="662.5"/>
<circle cx="256.5" cy="665.5"/>
<circle cx="257.5" cy="667.5"/>
<circle cx="257.5" cy="670.5"/>
<circle cx="256.5" cy="672.5"/>
<circle cx="257.5" cy="674.5"/>
<circle cx="257.5" cy="675.5"/>
<circle cx="256.5" cy="678.5"/>
<circle cx="257.5" cy="680.5"/>
<circle cx="256.5" cy="682.5"/>
<circle cx="257.5" cy="685.5"/>
<circle cx="256.5" cy="687.5"/>
<circle cx="257.5" cy="690.5"/>
<circle cx="256.5" cy="693.5"/>
<circle cx="256.5" cy="695.5"/>
<circle cx="257.5" cy="698.5"/>
</g>
<line x1="122" y1="840.9" x2="918.6" y2="123" stroke="#f00" stroke-width="2" shape-rendering="crispEdges"/>
<g stroke="#000" stroke-width="2" fill="none" shape-rendering="crispEdges">
<rect x="122" y="123" width="815" height="724"/>
<line x1="215" y1="847" x2="215" y2="863"/>
<line x1="381" y1="847" x2="381" y2="863"/>
<line x1="546" y1="847" x2="546" y2="863"/>
<line x1="712" y1="847" x2="712" y2="863"/>
<line x1="877" y1="847" x2="877" y2="863"/>
<line x1="122" y1="158" x2="106" y2="158"/>
<line x1="122" y1="307" x2="106" y2="307"/>
<line x1="122" y1="457" x2="106" y2="457"/>
<line x1="122" y1="606" x2="106" y2="606"/>
<line x1="122" y1="755" x2="106" y2="755"/>
</g>
<g filter="url(#bw)">
<text x="215" y="901" font-size="25" text-anchor="middle" textLength="34.3" lengthAdjust="spacingAndGlyphs">-10</text>
<text x="381" y="901" font-size="25" text-anchor="middle" textLength="21.3" lengthAdjust="spacingAndGlyphs">-5</text>
<text x="546" y="901" font-size="25" text-anchor="middle">0</text>
<text x="712" y="901" font-size="25" text-anchor="middle">5</text>
<text x="877" y="901" font-size="25" text-anchor="middle" textLength="26.6" lengthAdjust="spacingAndGlyphs">10</text>
<text transform="translate(86.5,158) rotate(-90)" font-size="25" text-anchor="middle" textLength="26.6" lengthAdjust="spacingAndGlyphs">10</text>
<text transform="translate(86.5,307) rotate(-90)" font-size="25" text-anchor="middle">5</text>
<text transform="translate(86.5,457) rotate(-90)" font-size="25" text-anchor="middle">0</text>
<text transform="translate(86.5,606) rotate(-90)" font-size="25" text-anchor="middle" textLength="21.3" lengthAdjust="spacingAndGlyphs">-5</text>
<text transform="translate(86.5,755) rotate(-90)" font-size="25" text-anchor="middle" textLength="34.3" lengthAdjust="spacingAndGlyphs">-10</text>
<text x="529.5" y="961" font-size="26" text-anchor="middle" textLength="275.5" lengthAdjust="spacingAndGlyphs">WT.MMS.2 log2 densities</text>
<text transform="translate(25.8,484.5) rotate(-90)" font-size="26" text-anchor="middle" textLength="257" lengthAdjust="spacingAndGlyphs">rrp6.G1.1 log2 densities</text>
<text x="529.5" y="72" font-size="32" font-weight="bold" text-anchor="middle" textLength="276" lengthAdjust="spacingAndGlyphs">rrp6.G1.1 vs WT.MMS.2</text>
<text x="530" y="117" font-size="12.5" text-anchor="middle" textLength="152" lengthAdjust="spacingAndGlyphs" xml:space="preserve">Pearson correlation =  0.88</text>
</g>
</svg></body></html>
